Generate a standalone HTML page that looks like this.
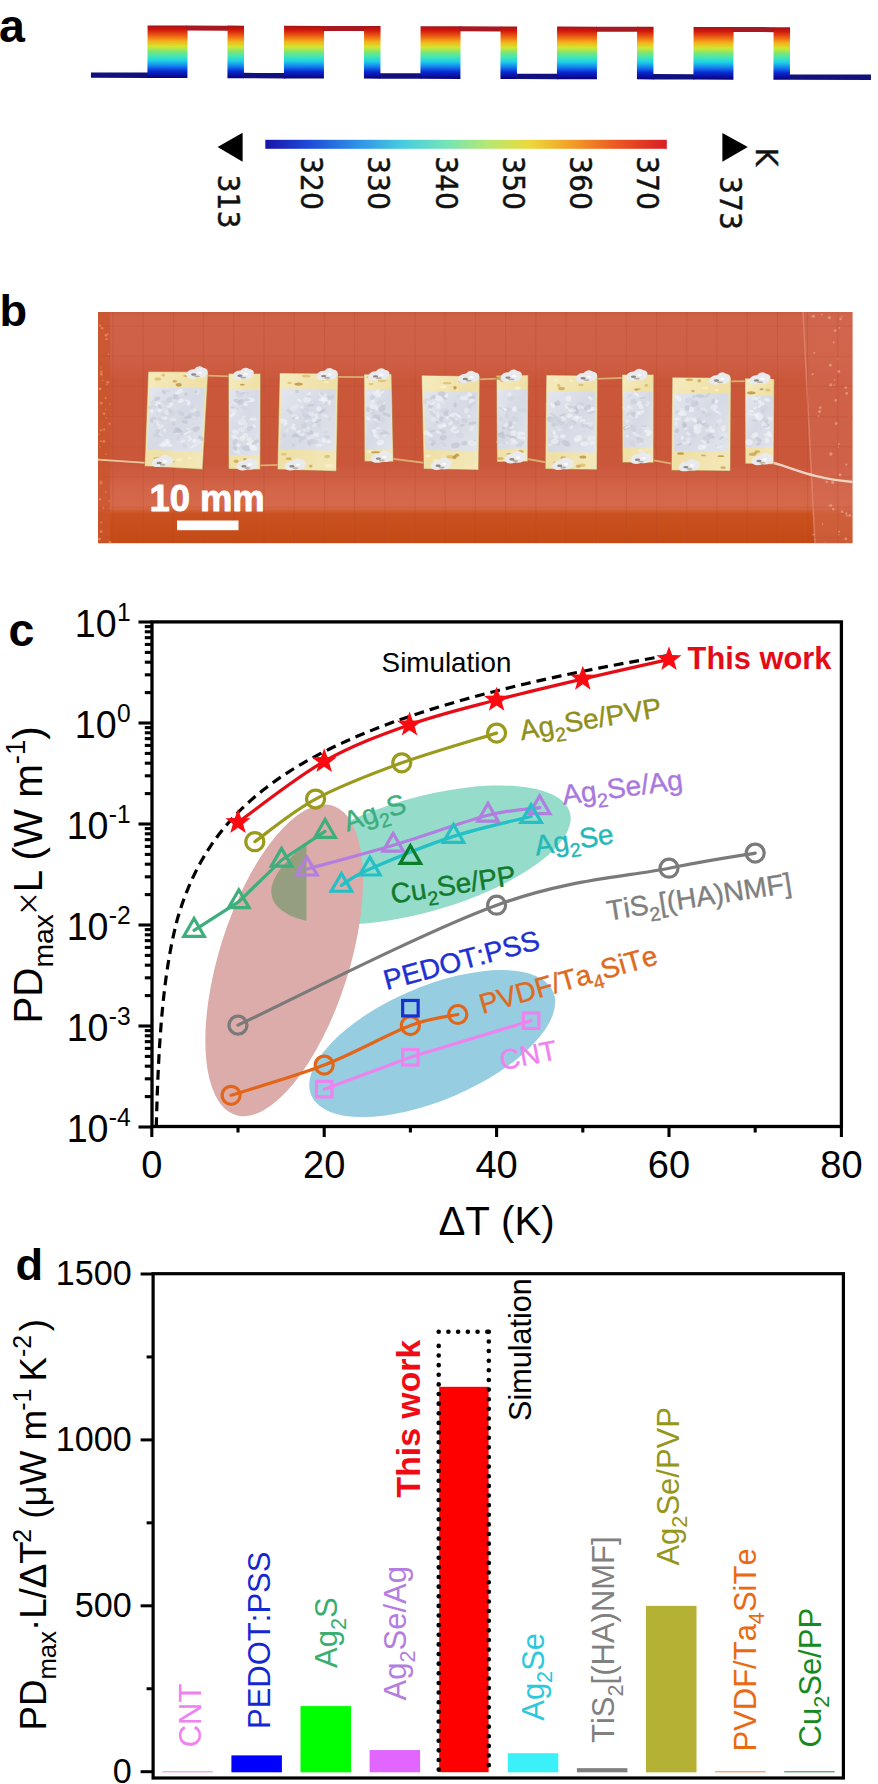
<!DOCTYPE html>
<html lang="en">
<head>
<meta charset="utf-8">
<title>Thermoelectric generator figure</title>
<style>
html,body{margin:0;padding:0;background:#fff;}
body{width:878px;height:1784px;overflow:hidden;font-family:"Liberation Sans", Arial, Helvetica, sans-serif;}
svg{display:block;}
text{white-space:pre;font-kerning:none;font-variant-ligatures:none;}
</style>
</head>
<body>
<svg width="878" height="1784" viewBox="0 0 878 1784">
<rect x="0" y="0" width="878" height="1784" fill="#fff"/>
<g id="panelA">
<defs>
<linearGradient id="jetv" x1="0" y1="0" x2="0" y2="1">
<stop offset="0" stop-color="#a01418"/><stop offset="0.08" stop-color="#d2160c"/>
<stop offset="0.20" stop-color="#ec6414"/><stop offset="0.30" stop-color="#f5b01a"/>
<stop offset="0.40" stop-color="#d2e632"/><stop offset="0.50" stop-color="#78e678"/>
<stop offset="0.58" stop-color="#46e6b4"/><stop offset="0.67" stop-color="#1ed2e6"/>
<stop offset="0.77" stop-color="#1482f0"/><stop offset="0.87" stop-color="#0a28d2"/>
<stop offset="1" stop-color="#0a0078"/></linearGradient>
<linearGradient id="jeth" x1="0" y1="0" x2="1" y2="0">
<stop offset="0" stop-color="#1a14a8"/><stop offset="0.10" stop-color="#1c46d6"/>
<stop offset="0.22" stop-color="#2c8ce6"/><stop offset="0.34" stop-color="#46cce0"/>
<stop offset="0.45" stop-color="#74e4b8"/><stop offset="0.56" stop-color="#b8e870"/>
<stop offset="0.66" stop-color="#ecd83a"/><stop offset="0.76" stop-color="#f2a028"/>
<stop offset="0.87" stop-color="#ec5a24"/><stop offset="1" stop-color="#d81e24"/></linearGradient>
</defs>
<g transform="rotate(0.16 147 52)">
<rect x="91" y="72.6" width="57.5" height="5.4" fill="#10107e"/>
<rect x="147.5" y="25.4" width="40" height="52.6" fill="url(#jetv)"/>
<rect x="186.5" y="25.4" width="42" height="5.0" fill="#a81820"/>
<rect x="227.5" y="25.4" width="16.5" height="52.6" fill="url(#jetv)"/>
<rect x="243.5" y="72.6" width="41.5" height="5.4" fill="#10107e"/>
<rect x="284" y="25.4" width="40" height="52.6" fill="url(#jetv)"/>
<rect x="323" y="25.4" width="42" height="5.0" fill="#a81820"/>
<rect x="364" y="25.4" width="16.5" height="52.6" fill="url(#jetv)"/>
<rect x="380" y="72.6" width="41.5" height="5.4" fill="#10107e"/>
<rect x="420.5" y="25.4" width="40" height="52.6" fill="url(#jetv)"/>
<rect x="459.5" y="25.4" width="42" height="5.0" fill="#a81820"/>
<rect x="500.5" y="25.4" width="16.5" height="52.6" fill="url(#jetv)"/>
<rect x="516.5" y="72.6" width="41.5" height="5.4" fill="#10107e"/>
<rect x="557" y="25.4" width="40" height="52.6" fill="url(#jetv)"/>
<rect x="596" y="25.4" width="42" height="5.0" fill="#a81820"/>
<rect x="637" y="25.4" width="16.5" height="52.6" fill="url(#jetv)"/>
<rect x="653" y="72.6" width="41.5" height="5.4" fill="#10107e"/>
<rect x="693.5" y="25.4" width="40" height="52.6" fill="url(#jetv)"/>
<rect x="732.5" y="25.4" width="42" height="5.0" fill="#a81820"/>
<rect x="773.5" y="25.4" width="16.5" height="52.6" fill="url(#jetv)"/>
<rect x="789.5" y="72.6" width="81.5" height="5.4" fill="#10107e"/>
</g>
<rect x="265.3" y="139.8" width="401.5" height="9" fill="url(#jeth)"/>
<polygon points="217.6,147 242.6,132.8 242.6,161.8" fill="#000"/>
<polygon points="747.8,147 722.4,133 722.4,161.8" fill="#000"/>
<text transform="translate(301.13,156) rotate(90) scale(0.91,1)" x="0" y="0" font-family='"DejaVu Sans", "Liberation Sans", sans-serif' font-size="31" fill="#111" stroke="#111" stroke-width="0.45">320</text>
<text transform="translate(368.33,156) rotate(90) scale(0.91,1)" x="0" y="0" font-family='"DejaVu Sans", "Liberation Sans", sans-serif' font-size="31" fill="#111" stroke="#111" stroke-width="0.45">330</text>
<text transform="translate(435.53,156) rotate(90) scale(0.91,1)" x="0" y="0" font-family='"DejaVu Sans", "Liberation Sans", sans-serif' font-size="31" fill="#111" stroke="#111" stroke-width="0.45">340</text>
<text transform="translate(502.73,156) rotate(90) scale(0.91,1)" x="0" y="0" font-family='"DejaVu Sans", "Liberation Sans", sans-serif' font-size="31" fill="#111" stroke="#111" stroke-width="0.45">350</text>
<text transform="translate(569.93,156) rotate(90) scale(0.91,1)" x="0" y="0" font-family='"DejaVu Sans", "Liberation Sans", sans-serif' font-size="31" fill="#111" stroke="#111" stroke-width="0.45">360</text>
<text transform="translate(637.13,156) rotate(90) scale(0.91,1)" x="0" y="0" font-family='"DejaVu Sans", "Liberation Sans", sans-serif' font-size="31" fill="#111" stroke="#111" stroke-width="0.45">370</text>
<text transform="translate(217.9,174.5) rotate(90) scale(0.91,1)" x="0" y="0" font-family='"DejaVu Sans", "Liberation Sans", sans-serif' font-size="31" fill="#111" stroke="#111" stroke-width="0.45">313</text>
<text transform="translate(720,176) rotate(90) scale(0.91,1)" x="0" y="0" font-family='"DejaVu Sans", "Liberation Sans", sans-serif' font-size="31" fill="#111" stroke="#111" stroke-width="0.45">373</text>
<text transform="translate(755.8,147.8) rotate(90) scale(0.91,1)" x="0" y="0" font-family='"DejaVu Sans", "Liberation Sans", sans-serif' font-size="31" fill="#111" stroke="#111" stroke-width="0.45">K</text>
</g>
<g id="panelB">
<defs>
<linearGradient id="bgb" gradientUnits="userSpaceOnUse" x1="0" y1="312.0" x2="0" y2="543.2">
<stop offset="0" stop-color="#c85a3c"/><stop offset="0.02" stop-color="#cf6248"/><stop offset="0.20" stop-color="#ce6046"/><stop offset="0.29" stop-color="#cb573b"/>
<stop offset="0.66" stop-color="#cb573b"/><stop offset="0.76" stop-color="#d26448"/><stop offset="0.845" stop-color="#d66a4a"/><stop offset="0.872" stop-color="#ca5220"/><stop offset="1" stop-color="#c44a16"/></linearGradient>
<linearGradient id="gold" x1="0" y1="0" x2="1" y2="1"><stop offset="0" stop-color="#f5ebbe"/><stop offset="0.5" stop-color="#efe0a6"/><stop offset="1" stop-color="#f4e9bc"/></linearGradient>
<linearGradient id="silv" x1="0" y1="0" x2="1" y2="1"><stop offset="0" stop-color="#e3e6ee"/><stop offset="0.5" stop-color="#d6dae4"/><stop offset="1" stop-color="#e1e4ec"/></linearGradient>
<clipPath id="clipb"><rect x="98" y="312" width="754.5" height="231.2"/></clipPath>
</defs>
<rect x="98" y="312" width="754.5" height="231.2" fill="url(#bgb)"/>
<g clip-path="url(#clipb)">
<rect x="98" y="312" width="12" height="231.2" fill="#c9562c" opacity="0.75"/>
<circle cx="103.98" cy="441.42" r="1.43" fill="#e58a62" opacity="0.8"/>
<circle cx="104.12" cy="429.41" r="1.13" fill="#e58a62" opacity="0.8"/>
<circle cx="101.03" cy="430.35" r="1.17" fill="#e58a62" opacity="0.8"/>
<circle cx="107.72" cy="333.76" r="0.87" fill="#e58a62" opacity="0.8"/>
<circle cx="100" cy="499.19" r="1.22" fill="#e58a62" opacity="0.8"/>
<circle cx="99.46" cy="539.08" r="1.47" fill="#e58a62" opacity="0.8"/>
<circle cx="106.19" cy="454.32" r="0.74" fill="#e58a62" opacity="0.8"/>
<circle cx="99.17" cy="434.16" r="0.65" fill="#e58a62" opacity="0.8"/>
<circle cx="101.09" cy="367.94" r="0.63" fill="#e58a62" opacity="0.8"/>
<circle cx="104.1" cy="413.85" r="1.36" fill="#e58a62" opacity="0.8"/>
<circle cx="104.71" cy="460.04" r="1.05" fill="#e58a62" opacity="0.8"/>
<circle cx="106.29" cy="417.73" r="0.85" fill="#e58a62" opacity="0.8"/>
<circle cx="109.97" cy="542.2" r="1.36" fill="#e58a62" opacity="0.8"/>
<circle cx="106.79" cy="384.89" r="0.81" fill="#e58a62" opacity="0.8"/>
<circle cx="102.18" cy="328.24" r="1.29" fill="#e58a62" opacity="0.8"/>
<circle cx="103.4" cy="507.73" r="0.95" fill="#e58a62" opacity="0.8"/>
<circle cx="109.54" cy="507.9" r="0.6" fill="#e58a62" opacity="0.8"/>
<circle cx="101.31" cy="522.45" r="1.02" fill="#e58a62" opacity="0.8"/>
<circle cx="109.78" cy="403.88" r="0.67" fill="#e58a62" opacity="0.8"/>
<circle cx="105.92" cy="491.99" r="0.84" fill="#e58a62" opacity="0.8"/>
<circle cx="99.96" cy="388.89" r="1.47" fill="#e58a62" opacity="0.8"/>
<circle cx="107.34" cy="339.28" r="0.82" fill="#e58a62" opacity="0.8"/>
<circle cx="100.11" cy="325.85" r="1.32" fill="#e58a62" opacity="0.8"/>
<circle cx="100.95" cy="441.31" r="1" fill="#e58a62" opacity="0.8"/>
<circle cx="101.1" cy="481.21" r="0.72" fill="#e58a62" opacity="0.8"/>
<circle cx="106.08" cy="338.94" r="0.98" fill="#e58a62" opacity="0.8"/>
<circle cx="101.34" cy="374.38" r="1.47" fill="#e58a62" opacity="0.8"/>
<circle cx="107.84" cy="382.32" r="1.4" fill="#e58a62" opacity="0.8"/>
<circle cx="101.32" cy="403.16" r="1.37" fill="#e58a62" opacity="0.8"/>
<circle cx="106.06" cy="335.2" r="1.49" fill="#e58a62" opacity="0.8"/>
<circle cx="101.35" cy="371.71" r="1.3" fill="#e58a62" opacity="0.8"/>
<circle cx="102.62" cy="380.51" r="0.67" fill="#e58a62" opacity="0.8"/>
<circle cx="99.99" cy="446.73" r="0.82" fill="#e58a62" opacity="0.8"/>
<circle cx="105.61" cy="397.94" r="1.01" fill="#e58a62" opacity="0.8"/>
<circle cx="109.55" cy="423.84" r="1.12" fill="#e58a62" opacity="0.8"/>
<circle cx="108.53" cy="354.27" r="0.74" fill="#e58a62" opacity="0.8"/>
<circle cx="108.99" cy="501.08" r="0.82" fill="#e58a62" opacity="0.8"/>
<circle cx="101.09" cy="482.95" r="1.45" fill="#e58a62" opacity="0.8"/>
<circle cx="101.16" cy="531.67" r="1.39" fill="#e58a62" opacity="0.8"/>
<circle cx="105.64" cy="409.44" r="0.69" fill="#e58a62" opacity="0.8"/>
<polygon points="803,312 852.5,312 852.5,543.2 815,543.2" fill="#d46a52" opacity="0.55"/>
<line x1="803" y1="312" x2="815" y2="543.2" stroke="#e08a72" stroke-width="1.6" opacity="0.7"/>
<circle cx="813.47" cy="534.57" r="0.89" fill="#e9a48c" opacity="0.7"/>
<circle cx="838.77" cy="371.41" r="1.59" fill="#e9a48c" opacity="0.7"/>
<circle cx="834.67" cy="379.84" r="0.81" fill="#e9a48c" opacity="0.7"/>
<circle cx="839.37" cy="327.9" r="0.87" fill="#e9a48c" opacity="0.7"/>
<circle cx="833.26" cy="509.07" r="1.34" fill="#e9a48c" opacity="0.7"/>
<circle cx="822.65" cy="524.09" r="0.84" fill="#e9a48c" opacity="0.7"/>
<circle cx="812.63" cy="374.24" r="1.13" fill="#e9a48c" opacity="0.7"/>
<circle cx="814.3" cy="352.75" r="1.04" fill="#e9a48c" opacity="0.7"/>
<circle cx="833.74" cy="342.42" r="1.03" fill="#e9a48c" opacity="0.7"/>
<circle cx="845.86" cy="538.69" r="1.39" fill="#e9a48c" opacity="0.7"/>
<circle cx="838.27" cy="447.12" r="0.77" fill="#e9a48c" opacity="0.7"/>
<circle cx="813.33" cy="316.14" r="1.69" fill="#e9a48c" opacity="0.7"/>
<circle cx="838.64" cy="534.59" r="0.63" fill="#e9a48c" opacity="0.7"/>
<circle cx="836.18" cy="423.49" r="1.48" fill="#e9a48c" opacity="0.7"/>
<circle cx="824.12" cy="543.05" r="0.69" fill="#e9a48c" opacity="0.7"/>
<circle cx="832.75" cy="482.4" r="1.68" fill="#e9a48c" opacity="0.7"/>
<circle cx="840.01" cy="474.69" r="1.55" fill="#e9a48c" opacity="0.7"/>
<circle cx="846.77" cy="393.34" r="1.42" fill="#e9a48c" opacity="0.7"/>
<circle cx="846.23" cy="513.4" r="1.1" fill="#e9a48c" opacity="0.7"/>
<circle cx="842.04" cy="511.63" r="1.29" fill="#e9a48c" opacity="0.7"/>
<circle cx="835.75" cy="400.4" r="1.3" fill="#e9a48c" opacity="0.7"/>
<circle cx="835.14" cy="330.54" r="1.37" fill="#e9a48c" opacity="0.7"/>
<circle cx="849.75" cy="515.41" r="1.47" fill="#e9a48c" opacity="0.7"/>
<circle cx="826.76" cy="481.94" r="1.3" fill="#e9a48c" opacity="0.7"/>
<circle cx="828.74" cy="505.83" r="0.7" fill="#e9a48c" opacity="0.7"/>
<circle cx="840.51" cy="318.89" r="1.32" fill="#e9a48c" opacity="0.7"/>
<circle cx="830.28" cy="365.23" r="1.44" fill="#e9a48c" opacity="0.7"/>
<circle cx="830.9" cy="454.07" r="1.7" fill="#e9a48c" opacity="0.7"/>
<circle cx="821.72" cy="314.61" r="0.96" fill="#e9a48c" opacity="0.7"/>
<circle cx="837.77" cy="358.84" r="0.8" fill="#e9a48c" opacity="0.7"/>
<circle cx="846.42" cy="464.59" r="1.13" fill="#e9a48c" opacity="0.7"/>
<circle cx="845.89" cy="387.59" r="1.4" fill="#e9a48c" opacity="0.7"/>
<circle cx="819.54" cy="411.62" r="1.57" fill="#e9a48c" opacity="0.7"/>
<circle cx="846.74" cy="515.52" r="1.06" fill="#e9a48c" opacity="0.7"/>
<circle cx="834.16" cy="385.17" r="0.76" fill="#e9a48c" opacity="0.7"/>
<circle cx="830.87" cy="505.54" r="1.62" fill="#e9a48c" opacity="0.7"/>
<circle cx="839.03" cy="531.64" r="0.93" fill="#e9a48c" opacity="0.7"/>
<circle cx="818.43" cy="416.19" r="0.93" fill="#e9a48c" opacity="0.7"/>
<circle cx="820.14" cy="407.71" r="1.35" fill="#e9a48c" opacity="0.7"/>
<circle cx="830.77" cy="384.91" r="1.61" fill="#e9a48c" opacity="0.7"/>
<circle cx="849.32" cy="416.61" r="0.69" fill="#e9a48c" opacity="0.7"/>
<circle cx="813.2" cy="513.8" r="0.65" fill="#e9a48c" opacity="0.7"/>
<circle cx="838.93" cy="443.92" r="0.97" fill="#e9a48c" opacity="0.7"/>
<circle cx="842.08" cy="316.42" r="0.76" fill="#e9a48c" opacity="0.7"/>
<circle cx="829.28" cy="317.72" r="1.6" fill="#e9a48c" opacity="0.7"/>
<line x1="113" y1="312" x2="113" y2="543.2" stroke="#b4492c" stroke-width="0.9" opacity="0.35"/>
<line x1="143.2" y1="312" x2="143.2" y2="543.2" stroke="#b4492c" stroke-width="0.9" opacity="0.35"/>
<line x1="173.4" y1="312" x2="173.4" y2="543.2" stroke="#b4492c" stroke-width="0.9" opacity="0.35"/>
<line x1="203.6" y1="312" x2="203.6" y2="543.2" stroke="#b4492c" stroke-width="0.9" opacity="0.35"/>
<line x1="233.8" y1="312" x2="233.8" y2="543.2" stroke="#b4492c" stroke-width="0.9" opacity="0.35"/>
<line x1="264" y1="312" x2="264" y2="543.2" stroke="#b4492c" stroke-width="0.9" opacity="0.35"/>
<line x1="294.2" y1="312" x2="294.2" y2="543.2" stroke="#b4492c" stroke-width="0.9" opacity="0.35"/>
<line x1="324.4" y1="312" x2="324.4" y2="543.2" stroke="#b4492c" stroke-width="0.9" opacity="0.35"/>
<line x1="354.6" y1="312" x2="354.6" y2="543.2" stroke="#b4492c" stroke-width="0.9" opacity="0.35"/>
<line x1="384.8" y1="312" x2="384.8" y2="543.2" stroke="#b4492c" stroke-width="0.9" opacity="0.35"/>
<line x1="415" y1="312" x2="415" y2="543.2" stroke="#b4492c" stroke-width="0.9" opacity="0.35"/>
<line x1="445.2" y1="312" x2="445.2" y2="543.2" stroke="#b4492c" stroke-width="0.9" opacity="0.35"/>
<line x1="475.4" y1="312" x2="475.4" y2="543.2" stroke="#b4492c" stroke-width="0.9" opacity="0.35"/>
<line x1="505.6" y1="312" x2="505.6" y2="543.2" stroke="#b4492c" stroke-width="0.9" opacity="0.35"/>
<line x1="535.8" y1="312" x2="535.8" y2="543.2" stroke="#b4492c" stroke-width="0.9" opacity="0.35"/>
<line x1="566" y1="312" x2="566" y2="543.2" stroke="#b4492c" stroke-width="0.9" opacity="0.35"/>
<line x1="596.2" y1="312" x2="596.2" y2="543.2" stroke="#b4492c" stroke-width="0.9" opacity="0.35"/>
<line x1="626.4" y1="312" x2="626.4" y2="543.2" stroke="#b4492c" stroke-width="0.9" opacity="0.35"/>
<line x1="656.6" y1="312" x2="656.6" y2="543.2" stroke="#b4492c" stroke-width="0.9" opacity="0.35"/>
<line x1="686.8" y1="312" x2="686.8" y2="543.2" stroke="#b4492c" stroke-width="0.9" opacity="0.35"/>
<line x1="717" y1="312" x2="717" y2="543.2" stroke="#b4492c" stroke-width="0.9" opacity="0.35"/>
<line x1="747.2" y1="312" x2="747.2" y2="543.2" stroke="#b4492c" stroke-width="0.9" opacity="0.35"/>
<line x1="777.4" y1="312" x2="777.4" y2="543.2" stroke="#b4492c" stroke-width="0.9" opacity="0.35"/>
<line x1="807.6" y1="312" x2="807.6" y2="543.2" stroke="#b4492c" stroke-width="0.9" opacity="0.35"/>
<line x1="837.8" y1="312" x2="837.8" y2="543.2" stroke="#b4492c" stroke-width="0.9" opacity="0.35"/>
<line x1="868" y1="312" x2="868" y2="543.2" stroke="#b4492c" stroke-width="0.9" opacity="0.35"/>
<line x1="98" y1="326" x2="852.5" y2="326" stroke="#b4492c" stroke-width="0.9" opacity="0.3"/>
<line x1="98" y1="356.2" x2="852.5" y2="356.2" stroke="#b4492c" stroke-width="0.9" opacity="0.3"/>
<line x1="98" y1="386.4" x2="852.5" y2="386.4" stroke="#b4492c" stroke-width="0.9" opacity="0.3"/>
<line x1="98" y1="416.6" x2="852.5" y2="416.6" stroke="#b4492c" stroke-width="0.9" opacity="0.3"/>
<line x1="98" y1="446.8" x2="852.5" y2="446.8" stroke="#b4492c" stroke-width="0.9" opacity="0.3"/>
<line x1="98" y1="477" x2="852.5" y2="477" stroke="#b4492c" stroke-width="0.9" opacity="0.3"/>
<line x1="98" y1="507.2" x2="852.5" y2="507.2" stroke="#b4492c" stroke-width="0.9" opacity="0.3"/>
<line x1="98" y1="537.4" x2="852.5" y2="537.4" stroke="#b4492c" stroke-width="0.9" opacity="0.3"/>
<path d="M98,459.6 L150,463.2" stroke="#e8c9a0" stroke-width="1.7" fill="none"/>
<line x1="200.2" y1="375.3" x2="236.4" y2="376.6" stroke="#dcae74" stroke-width="1.8"/>
<line x1="330.2" y1="376.9" x2="372" y2="377.2" stroke="#dcae74" stroke-width="1.8"/>
<line x1="471.8" y1="379.7" x2="504.4" y2="378.4" stroke="#dcae74" stroke-width="1.8"/>
<line x1="589.6" y1="379.1" x2="630" y2="377.6" stroke="#dcae74" stroke-width="1.8"/>
<line x1="723" y1="381.3" x2="753" y2="381.2" stroke="#dcae74" stroke-width="1.8"/>
<line x1="252.2" y1="465.6" x2="287.4" y2="464.6" stroke="#dcae74" stroke-width="1.8"/>
<line x1="385.4" y1="457.8" x2="433.6" y2="464" stroke="#dcae74" stroke-width="1.8"/>
<line x1="519.8" y1="457.6" x2="555.2" y2="464" stroke="#dcae74" stroke-width="1.8"/>
<line x1="645.6" y1="458.8" x2="681.4" y2="465.4" stroke="#dcae74" stroke-width="1.8"/>
<path d="M766,461 C788,465 806,478 853,482" stroke="#ecd5c2" stroke-width="2.4" fill="none"/>
<polygon points="148.2,371.6 208.2,371.8 202.6,469.4 144.6,466.2" fill="url(#gold)" stroke="#a8662e" stroke-width="0.9" stroke-opacity="0.55"/>
<polygon points="149.79,387.5 205.06,388.2 201.39,452.17 147.44,449.5" fill="url(#silv)"/>
<ellipse cx="163.31" cy="375.28" rx="1.64" ry="1.43" fill="#d9bb63" opacity="0.75"/>
<ellipse cx="156.76" cy="458.3" rx="3.42" ry="1.17" fill="#c9a24a" opacity="0.75"/>
<ellipse cx="186.11" cy="375.97" rx="2.93" ry="0.98" fill="#c9a24a" opacity="0.75"/>
<ellipse cx="189.71" cy="458.29" rx="1.61" ry="1.03" fill="#fbf3cf" opacity="0.75"/>
<ellipse cx="178.72" cy="384.87" rx="3" ry="1.8" fill="#b88a36" opacity="0.75"/>
<ellipse cx="171.27" cy="461.56" rx="4.22" ry="0.89" fill="#d9bb63" opacity="0.75"/>
<ellipse cx="157.83" cy="379" rx="3.38" ry="1.71" fill="#d9bb63" opacity="0.75"/>
<ellipse cx="179.25" cy="459.79" rx="3.01" ry="1.62" fill="#fbf3cf" opacity="0.75"/>
<ellipse cx="174.85" cy="381.35" rx="2.11" ry="1.52" fill="#c9a24a" opacity="0.75"/>
<ellipse cx="162.08" cy="462.93" rx="4.44" ry="1.78" fill="#fbf3cf" opacity="0.75"/>
<ellipse cx="164.86" cy="430.44" rx="1.55" ry="2.01" fill="#f1f3f7" opacity="0.6" transform="rotate(-4.73 164.86 430.44)"/>
<ellipse cx="179.48" cy="433.29" rx="2.96" ry="1.06" fill="#f1f3f7" opacity="0.6" transform="rotate(-5.69 179.48 433.29)"/>
<ellipse cx="153.37" cy="419.89" rx="3.56" ry="2.83" fill="#bcc2cf" opacity="0.6" transform="rotate(-28.11 153.37 419.89)"/>
<ellipse cx="177.76" cy="430.74" rx="4.02" ry="2.38" fill="#bcc2cf" opacity="0.6" transform="rotate(6.32 177.76 430.74)"/>
<ellipse cx="186.51" cy="432.7" rx="2.82" ry="2.12" fill="#cfd4de" opacity="0.6" transform="rotate(4.92 186.51 432.7)"/>
<ellipse cx="159.92" cy="418.81" rx="4.22" ry="1.51" fill="#cfd4de" opacity="0.6" transform="rotate(-9.5 159.92 418.81)"/>
<ellipse cx="194.42" cy="440.83" rx="2.12" ry="2.7" fill="#f6f7fa" opacity="0.6" transform="rotate(1.94 194.42 440.83)"/>
<ellipse cx="180.62" cy="400.96" rx="3.11" ry="2.01" fill="#f6f7fa" opacity="0.6" transform="rotate(-9.84 180.62 400.96)"/>
<ellipse cx="178.87" cy="392.01" rx="4.25" ry="2.09" fill="#f6f7fa" opacity="0.6" transform="rotate(-30.25 178.87 392.01)"/>
<ellipse cx="156.32" cy="399.01" rx="4.29" ry="1.92" fill="#bcc2cf" opacity="0.6" transform="rotate(-18.46 156.32 399.01)"/>
<ellipse cx="175.57" cy="396.74" rx="2.8" ry="2.63" fill="#bcc2cf" opacity="0.6" transform="rotate(2 175.57 396.74)"/>
<ellipse cx="157.1" cy="413.41" rx="1.59" ry="1.52" fill="#cfd4de" opacity="0.6" transform="rotate(22.34 157.1 413.41)"/>
<ellipse cx="152.75" cy="400.56" rx="2.18" ry="2.37" fill="#e9ecf2" opacity="0.6" transform="rotate(17.89 152.75 400.56)"/>
<ellipse cx="163.98" cy="417.93" rx="3" ry="2.16" fill="#f6f7fa" opacity="0.6" transform="rotate(9.88 163.98 417.93)"/>
<ellipse cx="187.96" cy="429.48" rx="4.14" ry="1.05" fill="#cfd4de" opacity="0.6" transform="rotate(-6.93 187.96 429.48)"/>
<ellipse cx="178.41" cy="398.6" rx="2.11" ry="2.26" fill="#cfd4de" opacity="0.6" transform="rotate(-22.53 178.41 398.6)"/>
<ellipse cx="162.55" cy="420.45" rx="3.26" ry="1.27" fill="#cfd4de" opacity="0.6" transform="rotate(10.23 162.55 420.45)"/>
<ellipse cx="169.21" cy="399.82" rx="3.31" ry="2.78" fill="#c6cbd7" opacity="0.6" transform="rotate(-22.55 169.21 399.82)"/>
<ellipse cx="202.18" cy="440.09" rx="1.9" ry="1.48" fill="#cfd4de" opacity="0.6" transform="rotate(-32.95 202.18 440.09)"/>
<ellipse cx="171.25" cy="414.28" rx="4.32" ry="2.09" fill="#cfd4de" opacity="0.6" transform="rotate(-29.92 171.25 414.28)"/>
<ellipse cx="172" cy="428.56" rx="1.55" ry="1.4" fill="#cfd4de" opacity="0.6" transform="rotate(-11.39 172 428.56)"/>
<ellipse cx="193.19" cy="410.1" rx="3.61" ry="2.27" fill="#e9ecf2" opacity="0.6" transform="rotate(0.22 193.19 410.1)"/>
<ellipse cx="186.33" cy="400.27" rx="1.71" ry="1.21" fill="#f1f3f7" opacity="0.6" transform="rotate(20.96 186.33 400.27)"/>
<ellipse cx="182.67" cy="441.09" rx="2.94" ry="1.38" fill="#f1f3f7" opacity="0.6" transform="rotate(-23.69 182.67 441.09)"/>
<ellipse cx="194.16" cy="445.95" rx="4.28" ry="1.19" fill="#f1f3f7" opacity="0.6" transform="rotate(-29.24 194.16 445.95)"/>
<ellipse cx="186.1" cy="393.92" rx="1.79" ry="1.78" fill="#bcc2cf" opacity="0.6" transform="rotate(1.22 186.1 393.92)"/>
<ellipse cx="173.38" cy="423.75" rx="1.54" ry="2.4" fill="#c6cbd7" opacity="0.6" transform="rotate(-25.5 173.38 423.75)"/>
<ellipse cx="174.59" cy="431.64" rx="2.72" ry="1.39" fill="#c6cbd7" opacity="0.6" transform="rotate(-32.42 174.59 431.64)"/>
<ellipse cx="191.74" cy="407.95" rx="1.75" ry="2.68" fill="#cfd4de" opacity="0.6" transform="rotate(35.17 191.74 407.95)"/>
<ellipse cx="180.46" cy="400.38" rx="3.25" ry="1.68" fill="#e9ecf2" opacity="0.6" transform="rotate(-17.64 180.46 400.38)"/>
<ellipse cx="157.49" cy="431.85" rx="1.98" ry="2.87" fill="#c6cbd7" opacity="0.6" transform="rotate(31.72 157.49 431.85)"/>
<ellipse cx="196.17" cy="429.1" rx="3.8" ry="2.53" fill="#bcc2cf" opacity="0.6" transform="rotate(-23.45 196.17 429.1)"/>
<ellipse cx="160.96" cy="434.95" rx="2.41" ry="1.2" fill="#e9ecf2" opacity="0.6" transform="rotate(39.25 160.96 434.95)"/>
<ellipse cx="197.33" cy="392.33" rx="2.32" ry="2.92" fill="#e9ecf2" opacity="0.6" transform="rotate(-12.97 197.33 392.33)"/>
<ellipse cx="185.02" cy="421.97" rx="3.1" ry="1.78" fill="#bcc2cf" opacity="0.6" transform="rotate(11.38 185.02 421.97)"/>
<ellipse cx="187.12" cy="432.92" rx="4.44" ry="1.05" fill="#f6f7fa" opacity="0.6" transform="rotate(-31.36 187.12 432.92)"/>
<ellipse cx="163.6" cy="414.79" rx="3.01" ry="2.52" fill="#cfd4de" opacity="0.6" transform="rotate(-9.95 163.6 414.79)"/>
<ellipse cx="156.58" cy="403.8" rx="4.22" ry="2.1" fill="#f6f7fa" opacity="0.6" transform="rotate(-6.75 156.58 403.8)"/>
<ellipse cx="177.97" cy="437.74" rx="1.8" ry="1.89" fill="#cfd4de" opacity="0.6" transform="rotate(-33.9 177.97 437.74)"/>
<ellipse cx="181.87" cy="432.78" rx="1.64" ry="2.86" fill="#c6cbd7" opacity="0.6" transform="rotate(-9.13 181.87 432.78)"/>
<ellipse cx="200.74" cy="438.27" rx="3.13" ry="2.19" fill="#bcc2cf" opacity="0.6" transform="rotate(35.62 200.74 438.27)"/>
<ellipse cx="172.91" cy="419.53" rx="3.29" ry="1.73" fill="#e9ecf2" opacity="0.6" transform="rotate(-1.34 172.91 419.53)"/>
<ellipse cx="165.26" cy="442.48" rx="3.49" ry="2.5" fill="#f1f3f7" opacity="0.6" transform="rotate(-38.88 165.26 442.48)"/>
<ellipse cx="164.01" cy="391.94" rx="1.97" ry="2.51" fill="#bcc2cf" opacity="0.6" transform="rotate(-35.78 164.01 391.94)"/>
<ellipse cx="167.56" cy="412.17" rx="3.25" ry="2.45" fill="#e9ecf2" opacity="0.6" transform="rotate(-34.12 167.56 412.17)"/>
<ellipse cx="197.47" cy="413.98" rx="2.93" ry="2.95" fill="#c6cbd7" opacity="0.6" transform="rotate(-36.37 197.47 413.98)"/>
<ellipse cx="156.58" cy="435.68" rx="4.23" ry="1.29" fill="#c6cbd7" opacity="0.6" transform="rotate(8.29 156.58 435.68)"/>
<ellipse cx="157.43" cy="425.08" rx="2.87" ry="1.41" fill="#f1f3f7" opacity="0.6" transform="rotate(-11.46 157.43 425.08)"/>
<ellipse cx="159.43" cy="410.21" rx="1.92" ry="1.83" fill="#f6f7fa" opacity="0.6" transform="rotate(-19.03 159.43 410.21)"/>
<ellipse cx="181.09" cy="413.41" rx="3.83" ry="2.06" fill="#c6cbd7" opacity="0.6" transform="rotate(36.21 181.09 413.41)"/>
<ellipse cx="188.8" cy="403.09" rx="1.84" ry="2.79" fill="#f6f7fa" opacity="0.6" transform="rotate(10 188.8 403.09)"/>
<ellipse cx="169.79" cy="404.98" rx="3.56" ry="2.13" fill="#f6f7fa" opacity="0.6" transform="rotate(-24.8 169.79 404.98)"/>
<ellipse cx="165.71" cy="403.15" rx="4.36" ry="2" fill="#cfd4de" opacity="0.6" transform="rotate(33.26 165.71 403.15)"/>
<ellipse cx="196.12" cy="391.75" rx="1.68" ry="1.54" fill="#bcc2cf" opacity="0.6" transform="rotate(-37.85 196.12 391.75)"/>
<ellipse cx="153.52" cy="402.19" rx="2.33" ry="2.51" fill="#cfd4de" opacity="0.6" transform="rotate(-27.13 153.52 402.19)"/>
<ellipse cx="163.49" cy="445.44" rx="2.95" ry="1.71" fill="#e9ecf2" opacity="0.6" transform="rotate(-12.5 163.49 445.44)"/>
<ellipse cx="189.33" cy="437.3" rx="1.72" ry="1.24" fill="#f6f7fa" opacity="0.6" transform="rotate(27.04 189.33 437.3)"/>
<ellipse cx="190.55" cy="414.83" rx="3.74" ry="1.78" fill="#c6cbd7" opacity="0.6" transform="rotate(-10.48 190.55 414.83)"/>
<ellipse cx="184.71" cy="445.88" rx="2.48" ry="2.1" fill="#cfd4de" opacity="0.6" transform="rotate(26.09 184.71 445.88)"/>
<ellipse cx="160.91" cy="426.77" rx="3.24" ry="1.92" fill="#e9ecf2" opacity="0.6" transform="rotate(-33.72 160.91 426.77)"/>
<ellipse cx="155.8" cy="421.66" rx="2.95" ry="2.37" fill="#e9ecf2" opacity="0.6" transform="rotate(25.88 155.8 421.66)"/>
<ellipse cx="152.07" cy="407.18" rx="4.23" ry="2.21" fill="#cfd4de" opacity="0.6" transform="rotate(-15.7 152.07 407.18)"/>
<ellipse cx="188.33" cy="429.06" rx="2.35" ry="1.29" fill="#e9ecf2" opacity="0.6" transform="rotate(12.58 188.33 429.06)"/>
<ellipse cx="168.17" cy="441.16" rx="2.47" ry="1.88" fill="#f6f7fa" opacity="0.6" transform="rotate(33.48 168.17 441.16)"/>
<ellipse cx="199.22" cy="441.56" rx="2.81" ry="2.61" fill="#e9ecf2" opacity="0.6" transform="rotate(-3.34 199.22 441.56)"/>
<ellipse cx="162.8" cy="444.66" rx="3.69" ry="2.03" fill="#f1f3f7" opacity="0.6" transform="rotate(-11.06 162.8 444.66)"/>
<ellipse cx="170.12" cy="410.21" rx="2.69" ry="1.78" fill="#c6cbd7" opacity="0.6" transform="rotate(19.11 170.12 410.21)"/>
<ellipse cx="170.25" cy="411.74" rx="1.96" ry="2.18" fill="#c6cbd7" opacity="0.6" transform="rotate(-25.87 170.25 411.74)"/>
<ellipse cx="190.05" cy="439.71" rx="2.34" ry="1.04" fill="#f6f7fa" opacity="0.6" transform="rotate(-35.38 190.05 439.71)"/>
<ellipse cx="159.63" cy="406.37" rx="1.57" ry="2.68" fill="#bcc2cf" opacity="0.6" transform="rotate(-34.88 159.63 406.37)"/>
<ellipse cx="179.3" cy="434.42" rx="1.75" ry="1.16" fill="#cfd4de" opacity="0.6" transform="rotate(-31.57 179.3 434.42)"/>
<ellipse cx="167.49" cy="390.98" rx="3.46" ry="1.19" fill="#cfd4de" opacity="0.6" transform="rotate(-6.24 167.49 390.98)"/>
<ellipse cx="187.68" cy="417.37" rx="4.22" ry="1.68" fill="#bcc2cf" opacity="0.6" transform="rotate(-8.45 187.68 417.37)"/>
<ellipse cx="168.71" cy="444.69" rx="3.52" ry="1.99" fill="#f6f7fa" opacity="0.6" transform="rotate(24.38 168.71 444.69)"/>
<ellipse cx="155.27" cy="424.74" rx="1.64" ry="2.51" fill="#cfd4de" opacity="0.6" transform="rotate(-12.07 155.27 424.74)"/>
<ellipse cx="151.79" cy="411.04" rx="1.77" ry="1.93" fill="#f6f7fa" opacity="0.6" transform="rotate(11.22 151.79 411.04)"/>
<ellipse cx="178.14" cy="429.97" rx="3.91" ry="1.84" fill="#bcc2cf" opacity="0.6" transform="rotate(33.24 178.14 429.97)"/>
<path d="M186.2,375.8 q1,-7 8,-6.5 q4,-5 9,-1.5 q6,1 4,6 q-2,5 -10,4 q-8,2.5 -11,-2z" fill="#e9eaee"/>
<ellipse cx="193.7" cy="374.5" rx="2.6" ry="1.2" fill="#6f6a5c" opacity="0.75"/>
<ellipse cx="199.7" cy="372.8" rx="2.2" ry="1.2" fill="#fbfbfb"/>
<ellipse cx="197.2" cy="376.3" rx="3" ry="0.9" fill="#8d8776" opacity="0.6"/>
<path d="M151.6,464.2 q1,-7 8,-6.5 q4,-5 9,-1.5 q6,1 4,6 q-2,5 -10,4 q-8,2.5 -11,-2z" fill="#e9eaee"/>
<ellipse cx="159.1" cy="462.9" rx="2.6" ry="1.2" fill="#6f6a5c" opacity="0.75"/>
<ellipse cx="165.1" cy="461.2" rx="2.2" ry="1.2" fill="#fbfbfb"/>
<ellipse cx="162.6" cy="464.7" rx="3" ry="0.9" fill="#8d8776" opacity="0.6"/>
<polygon points="228.4,373.6 260.6,373.4 260.2,469.6 228.6,469" fill="url(#gold)" stroke="#a8662e" stroke-width="0.9" stroke-opacity="0.55"/>
<polygon points="229.63,390 259.33,389.94 259.06,455.48 229.77,455" fill="url(#silv)"/>
<ellipse cx="237.1" cy="377.61" rx="3.41" ry="1.48" fill="#fbf3cf" opacity="0.75"/>
<ellipse cx="236.14" cy="461.25" rx="2.38" ry="1.77" fill="#c9a24a" opacity="0.75"/>
<ellipse cx="242.34" cy="384.66" rx="2.41" ry="0.96" fill="#b88a36" opacity="0.75"/>
<ellipse cx="252.56" cy="464.53" rx="1.55" ry="1.28" fill="#c9a24a" opacity="0.75"/>
<ellipse cx="238.65" cy="378.05" rx="2.58" ry="1.39" fill="#d9bb63" opacity="0.75"/>
<ellipse cx="245.2" cy="459.24" rx="2.05" ry="1.08" fill="#b88a36" opacity="0.75"/>
<ellipse cx="253.47" cy="448.24" rx="3.38" ry="2.88" fill="#f6f7fa" opacity="0.6" transform="rotate(-1.64 253.47 448.24)"/>
<ellipse cx="238.45" cy="445.25" rx="4.24" ry="1.68" fill="#f6f7fa" opacity="0.6" transform="rotate(21.73 238.45 445.25)"/>
<ellipse cx="234.57" cy="443.75" rx="2.7" ry="1.43" fill="#c6cbd7" opacity="0.6" transform="rotate(24.11 234.57 443.75)"/>
<ellipse cx="241.33" cy="423.66" rx="3.05" ry="1.55" fill="#f1f3f7" opacity="0.6" transform="rotate(12.6 241.33 423.66)"/>
<ellipse cx="237.92" cy="392.65" rx="2.92" ry="1.74" fill="#c6cbd7" opacity="0.6" transform="rotate(17.06 237.92 392.65)"/>
<ellipse cx="246.43" cy="401.44" rx="1.97" ry="1.64" fill="#e9ecf2" opacity="0.6" transform="rotate(32.65 246.43 401.44)"/>
<ellipse cx="251.14" cy="399.87" rx="3.73" ry="2.24" fill="#f6f7fa" opacity="0.6" transform="rotate(2.77 251.14 399.87)"/>
<ellipse cx="235.91" cy="438.22" rx="1.5" ry="2.64" fill="#c6cbd7" opacity="0.6" transform="rotate(25.77 235.91 438.22)"/>
<ellipse cx="234.34" cy="408.2" rx="3.65" ry="1.19" fill="#bcc2cf" opacity="0.6" transform="rotate(15.5 234.34 408.2)"/>
<ellipse cx="234.35" cy="436.92" rx="3.13" ry="2.01" fill="#f1f3f7" opacity="0.6" transform="rotate(23.15 234.35 436.92)"/>
<ellipse cx="242.07" cy="447.01" rx="1.77" ry="2.65" fill="#c6cbd7" opacity="0.6" transform="rotate(-37.02 242.07 447.01)"/>
<ellipse cx="241.98" cy="421.65" rx="4.34" ry="2.93" fill="#e9ecf2" opacity="0.6" transform="rotate(-15.14 241.98 421.65)"/>
<ellipse cx="234.19" cy="410.34" rx="2.9" ry="2.43" fill="#e9ecf2" opacity="0.6" transform="rotate(-34.05 234.19 410.34)"/>
<ellipse cx="235.68" cy="432.06" rx="3.53" ry="2.49" fill="#f1f3f7" opacity="0.6" transform="rotate(12.31 235.68 432.06)"/>
<ellipse cx="232.72" cy="414.63" rx="3.63" ry="1.47" fill="#f6f7fa" opacity="0.6" transform="rotate(-30.93 232.72 414.63)"/>
<ellipse cx="250.26" cy="443.36" rx="4.03" ry="2.44" fill="#f6f7fa" opacity="0.6" transform="rotate(-27.83 250.26 443.36)"/>
<ellipse cx="246.93" cy="448.25" rx="3.75" ry="2.91" fill="#bcc2cf" opacity="0.6" transform="rotate(4.45 246.93 448.25)"/>
<ellipse cx="234.44" cy="403.32" rx="2.63" ry="1.22" fill="#e9ecf2" opacity="0.6" transform="rotate(35.6 234.44 403.32)"/>
<ellipse cx="245.43" cy="435.43" rx="2.49" ry="2.65" fill="#f1f3f7" opacity="0.6" transform="rotate(-31.85 245.43 435.43)"/>
<ellipse cx="246.79" cy="399.89" rx="3.39" ry="1.36" fill="#c6cbd7" opacity="0.6" transform="rotate(-7.82 246.79 399.89)"/>
<ellipse cx="251.76" cy="427.56" rx="1.77" ry="1.45" fill="#c6cbd7" opacity="0.6" transform="rotate(38.99 251.76 427.56)"/>
<ellipse cx="242.45" cy="438.27" rx="2.52" ry="2.65" fill="#f6f7fa" opacity="0.6" transform="rotate(-28.88 242.45 438.27)"/>
<ellipse cx="237.18" cy="400.88" rx="3.57" ry="1.97" fill="#bcc2cf" opacity="0.6" transform="rotate(9.84 237.18 400.88)"/>
<ellipse cx="249.22" cy="428.79" rx="2.45" ry="2.58" fill="#c6cbd7" opacity="0.6" transform="rotate(12.82 249.22 428.79)"/>
<ellipse cx="246.49" cy="393.11" rx="2.49" ry="1.68" fill="#cfd4de" opacity="0.6" transform="rotate(-4.7 246.49 393.11)"/>
<ellipse cx="245.3" cy="404.29" rx="2.5" ry="1.59" fill="#f1f3f7" opacity="0.6" transform="rotate(8.91 245.3 404.29)"/>
<ellipse cx="236.09" cy="437.99" rx="4.21" ry="2.1" fill="#e9ecf2" opacity="0.6" transform="rotate(8.96 236.09 437.99)"/>
<ellipse cx="244.29" cy="426.45" rx="2.09" ry="2.87" fill="#cfd4de" opacity="0.6" transform="rotate(16.55 244.29 426.45)"/>
<ellipse cx="254.05" cy="426.04" rx="1.58" ry="2.32" fill="#f1f3f7" opacity="0.6" transform="rotate(-29.1 254.05 426.04)"/>
<ellipse cx="243.47" cy="417.05" rx="2.5" ry="1.18" fill="#e9ecf2" opacity="0.6" transform="rotate(-18.71 243.47 417.05)"/>
<ellipse cx="252.83" cy="419.14" rx="3.69" ry="1.48" fill="#f6f7fa" opacity="0.6" transform="rotate(3.47 252.83 419.14)"/>
<ellipse cx="245.39" cy="425.62" rx="2.29" ry="2.82" fill="#e9ecf2" opacity="0.6" transform="rotate(8.12 245.39 425.62)"/>
<ellipse cx="235.27" cy="441.48" rx="2.37" ry="2.79" fill="#c6cbd7" opacity="0.6" transform="rotate(20.67 235.27 441.48)"/>
<ellipse cx="240.82" cy="401.95" rx="3.29" ry="2.62" fill="#bcc2cf" opacity="0.6" transform="rotate(-37.44 240.82 401.95)"/>
<ellipse cx="236.59" cy="451.22" rx="4.32" ry="2.32" fill="#e9ecf2" opacity="0.6" transform="rotate(20.49 236.59 451.22)"/>
<ellipse cx="252.01" cy="446.39" rx="3.35" ry="2.28" fill="#f1f3f7" opacity="0.6" transform="rotate(-27.32 252.01 446.39)"/>
<ellipse cx="241.95" cy="393.98" rx="3.08" ry="1.24" fill="#bcc2cf" opacity="0.6" transform="rotate(-26.1 241.95 393.98)"/>
<ellipse cx="244.44" cy="407.82" rx="3.2" ry="1.66" fill="#cfd4de" opacity="0.6" transform="rotate(22.72 244.44 407.82)"/>
<ellipse cx="249.1" cy="439.25" rx="2.71" ry="2" fill="#f1f3f7" opacity="0.6" transform="rotate(-2.41 249.1 439.25)"/>
<ellipse cx="241.94" cy="429.43" rx="3.57" ry="2.52" fill="#e9ecf2" opacity="0.6" transform="rotate(-1.14 241.94 429.43)"/>
<ellipse cx="255.41" cy="442.29" rx="4.07" ry="1.82" fill="#bcc2cf" opacity="0.6" transform="rotate(-30.61 255.41 442.29)"/>
<ellipse cx="235.08" cy="448.34" rx="2.49" ry="2.04" fill="#bcc2cf" opacity="0.6" transform="rotate(32.34 235.08 448.34)"/>
<ellipse cx="239.84" cy="395.28" rx="3.68" ry="2.8" fill="#cfd4de" opacity="0.6" transform="rotate(-9.88 239.84 395.28)"/>
<path d="M232.4,377.1 q1,-7 8,-6.5 q4,-5 9,-1.5 q6,1 4,6 q-2,5 -10,4 q-8,2.5 -11,-2z" fill="#e9eaee"/>
<ellipse cx="239.9" cy="375.8" rx="2.6" ry="1.2" fill="#6f6a5c" opacity="0.75"/>
<ellipse cx="245.9" cy="374.1" rx="2.2" ry="1.2" fill="#fbfbfb"/>
<ellipse cx="243.4" cy="377.6" rx="3" ry="0.9" fill="#8d8776" opacity="0.6"/>
<path d="M236.4,467.5 q1,-7 8,-6.5 q4,-5 9,-1.5 q6,1 4,6 q-2,5 -10,4 q-8,2.5 -11,-2z" fill="#e9eaee"/>
<ellipse cx="243.9" cy="466.2" rx="2.6" ry="1.2" fill="#6f6a5c" opacity="0.75"/>
<ellipse cx="249.9" cy="464.5" rx="2.2" ry="1.2" fill="#fbfbfb"/>
<ellipse cx="247.4" cy="468" rx="3" ry="0.9" fill="#8d8776" opacity="0.6"/>
<polygon points="279.6,373 338.2,373.4 336.4,471.2 277.4,469.6" fill="url(#gold)" stroke="#a8662e" stroke-width="0.9" stroke-opacity="0.55"/>
<polygon points="281.45,388.5 335.71,389.09 334.57,450.85 280.06,449.5" fill="url(#silv)"/>
<ellipse cx="298.57" cy="384.08" rx="4.15" ry="1.68" fill="#b88a36" opacity="0.75"/>
<ellipse cx="288.77" cy="458.7" rx="3.01" ry="1.2" fill="#c9a24a" opacity="0.75"/>
<ellipse cx="306.2" cy="376.21" rx="4.23" ry="1.34" fill="#d9bb63" opacity="0.75"/>
<ellipse cx="329.24" cy="465.66" rx="4.5" ry="1.53" fill="#fbf3cf" opacity="0.75"/>
<ellipse cx="325.58" cy="379.85" rx="3.92" ry="1.02" fill="#d9bb63" opacity="0.75"/>
<ellipse cx="310.71" cy="466.04" rx="1.8" ry="1.59" fill="#c9a24a" opacity="0.75"/>
<ellipse cx="326.36" cy="381.62" rx="2.86" ry="1.1" fill="#fbf3cf" opacity="0.75"/>
<ellipse cx="283.79" cy="454.27" rx="2.82" ry="1.25" fill="#d9bb63" opacity="0.75"/>
<ellipse cx="289.61" cy="382.96" rx="2.19" ry="1.11" fill="#d9bb63" opacity="0.75"/>
<ellipse cx="327.17" cy="456.46" rx="3" ry="1.73" fill="#d9bb63" opacity="0.75"/>
<ellipse cx="326.89" cy="401.85" rx="4.08" ry="2.39" fill="#f1f3f7" opacity="0.6" transform="rotate(-24.36 326.89 401.85)"/>
<ellipse cx="324.86" cy="410.33" rx="2.92" ry="1.34" fill="#cfd4de" opacity="0.6" transform="rotate(39.63 324.86 410.33)"/>
<ellipse cx="293.28" cy="425.91" rx="2.07" ry="2.76" fill="#f1f3f7" opacity="0.6" transform="rotate(12.01 293.28 425.91)"/>
<ellipse cx="298.45" cy="436.29" rx="4.38" ry="1.55" fill="#bcc2cf" opacity="0.6" transform="rotate(17.05 298.45 436.29)"/>
<ellipse cx="289.95" cy="429.47" rx="4.31" ry="1.89" fill="#f1f3f7" opacity="0.6" transform="rotate(-26.45 289.95 429.47)"/>
<ellipse cx="326.03" cy="397.26" rx="3.57" ry="1.54" fill="#cfd4de" opacity="0.6" transform="rotate(-21.16 326.03 397.26)"/>
<ellipse cx="316.25" cy="434.77" rx="2.62" ry="2.32" fill="#f1f3f7" opacity="0.6" transform="rotate(7.19 316.25 434.77)"/>
<ellipse cx="294.62" cy="407.35" rx="4.28" ry="2.33" fill="#e9ecf2" opacity="0.6" transform="rotate(-29.4 294.62 407.35)"/>
<ellipse cx="316.41" cy="416.41" rx="1.73" ry="2.83" fill="#f1f3f7" opacity="0.6" transform="rotate(2.46 316.41 416.41)"/>
<ellipse cx="285.5" cy="424.08" rx="2.35" ry="1.5" fill="#f6f7fa" opacity="0.6" transform="rotate(-33.03 285.5 424.08)"/>
<ellipse cx="297.41" cy="432.82" rx="2.24" ry="1.56" fill="#f6f7fa" opacity="0.6" transform="rotate(-37.69 297.41 432.82)"/>
<ellipse cx="322.5" cy="398.94" rx="4.19" ry="2.24" fill="#f6f7fa" opacity="0.6" transform="rotate(-9.22 322.5 398.94)"/>
<ellipse cx="329.4" cy="418.49" rx="2.04" ry="2.11" fill="#cfd4de" opacity="0.6" transform="rotate(32.78 329.4 418.49)"/>
<ellipse cx="299.18" cy="417.58" rx="1.6" ry="1.58" fill="#cfd4de" opacity="0.6" transform="rotate(14.74 299.18 417.58)"/>
<ellipse cx="309.1" cy="443.79" rx="2.02" ry="2.56" fill="#c6cbd7" opacity="0.6" transform="rotate(-31.03 309.1 443.79)"/>
<ellipse cx="304.88" cy="427.93" rx="3.14" ry="1.51" fill="#cfd4de" opacity="0.6" transform="rotate(23.29 304.88 427.93)"/>
<ellipse cx="294.96" cy="417.89" rx="2.16" ry="2.16" fill="#bcc2cf" opacity="0.6" transform="rotate(-19.09 294.96 417.89)"/>
<ellipse cx="293.3" cy="444.86" rx="1.66" ry="1.9" fill="#c6cbd7" opacity="0.6" transform="rotate(-14 293.3 444.86)"/>
<ellipse cx="313.46" cy="424.58" rx="3.92" ry="2.01" fill="#cfd4de" opacity="0.6" transform="rotate(-18.96 313.46 424.58)"/>
<ellipse cx="322.9" cy="394.56" rx="4.22" ry="2.14" fill="#f6f7fa" opacity="0.6" transform="rotate(6.36 322.9 394.56)"/>
<ellipse cx="319.11" cy="425.4" rx="1.66" ry="1.85" fill="#cfd4de" opacity="0.6" transform="rotate(-14.85 319.11 425.4)"/>
<ellipse cx="314.1" cy="419.93" rx="2.29" ry="2.18" fill="#f1f3f7" opacity="0.6" transform="rotate(12.01 314.1 419.93)"/>
<ellipse cx="308.6" cy="411.72" rx="2.24" ry="1.99" fill="#cfd4de" opacity="0.6" transform="rotate(26.47 308.6 411.72)"/>
<ellipse cx="322.32" cy="393.92" rx="2.73" ry="1.73" fill="#c6cbd7" opacity="0.6" transform="rotate(16.3 322.32 393.92)"/>
<ellipse cx="330.79" cy="397.69" rx="3.77" ry="2.2" fill="#c6cbd7" opacity="0.6" transform="rotate(-28.43 330.79 397.69)"/>
<ellipse cx="305.86" cy="432.22" rx="1.62" ry="1.48" fill="#f6f7fa" opacity="0.6" transform="rotate(-28.68 305.86 432.22)"/>
<ellipse cx="302.76" cy="407.19" rx="2.77" ry="1.15" fill="#f1f3f7" opacity="0.6" transform="rotate(14.39 302.76 407.19)"/>
<ellipse cx="318.86" cy="445.16" rx="3.34" ry="1.59" fill="#f1f3f7" opacity="0.6" transform="rotate(4.15 318.86 445.16)"/>
<ellipse cx="295.25" cy="416.35" rx="4.3" ry="1.73" fill="#e9ecf2" opacity="0.6" transform="rotate(35.71 295.25 416.35)"/>
<ellipse cx="329.1" cy="402.73" rx="1.98" ry="2.17" fill="#f1f3f7" opacity="0.6" transform="rotate(18.99 329.1 402.73)"/>
<ellipse cx="311.43" cy="441.57" rx="4.15" ry="2.85" fill="#c6cbd7" opacity="0.6" transform="rotate(-2.99 311.43 441.57)"/>
<ellipse cx="302.76" cy="437.71" rx="2.64" ry="2.56" fill="#c6cbd7" opacity="0.6" transform="rotate(-6.52 302.76 437.71)"/>
<ellipse cx="295.49" cy="434.92" rx="3.91" ry="1.96" fill="#bcc2cf" opacity="0.6" transform="rotate(-22.84 295.49 434.92)"/>
<ellipse cx="306.48" cy="407.78" rx="2.84" ry="2.99" fill="#cfd4de" opacity="0.6" transform="rotate(-25.47 306.48 407.78)"/>
<ellipse cx="307.44" cy="420.76" rx="2.76" ry="1.09" fill="#e9ecf2" opacity="0.6" transform="rotate(-10.97 307.44 420.76)"/>
<ellipse cx="296.88" cy="391.54" rx="2.05" ry="1.52" fill="#bcc2cf" opacity="0.6" transform="rotate(5.39 296.88 391.54)"/>
<ellipse cx="315.5" cy="402.68" rx="1.81" ry="1.11" fill="#cfd4de" opacity="0.6" transform="rotate(34.93 315.5 402.68)"/>
<ellipse cx="301.11" cy="433.38" rx="3.67" ry="2.81" fill="#f1f3f7" opacity="0.6" transform="rotate(39.84 301.11 433.38)"/>
<ellipse cx="324.91" cy="415.7" rx="4.06" ry="1.76" fill="#e9ecf2" opacity="0.6" transform="rotate(21.66 324.91 415.7)"/>
<ellipse cx="309.04" cy="393.57" rx="2.68" ry="1.48" fill="#f1f3f7" opacity="0.6" transform="rotate(-24.98 309.04 393.57)"/>
<ellipse cx="308.77" cy="397.65" rx="2.13" ry="1.82" fill="#bcc2cf" opacity="0.6" transform="rotate(3.52 308.77 397.65)"/>
<ellipse cx="290" cy="430.07" rx="2.28" ry="2.45" fill="#cfd4de" opacity="0.6" transform="rotate(-9.84 290 430.07)"/>
<ellipse cx="326.96" cy="437.24" rx="3.1" ry="1.9" fill="#c6cbd7" opacity="0.6" transform="rotate(-9.08 326.96 437.24)"/>
<ellipse cx="326.25" cy="403.16" rx="2.38" ry="1.69" fill="#c6cbd7" opacity="0.6" transform="rotate(-28.78 326.25 403.16)"/>
<ellipse cx="325.37" cy="432.34" rx="2.95" ry="1.02" fill="#cfd4de" opacity="0.6" transform="rotate(-16.15 325.37 432.34)"/>
<ellipse cx="316.55" cy="441.97" rx="2.15" ry="2.38" fill="#cfd4de" opacity="0.6" transform="rotate(-30.23 316.55 441.97)"/>
<ellipse cx="321.72" cy="411.45" rx="3.85" ry="1.52" fill="#bcc2cf" opacity="0.6" transform="rotate(-30.42 321.72 411.45)"/>
<ellipse cx="307.73" cy="417.94" rx="4.29" ry="1.57" fill="#cfd4de" opacity="0.6" transform="rotate(-17.61 307.73 417.94)"/>
<ellipse cx="291.12" cy="413.04" rx="2.93" ry="1.33" fill="#cfd4de" opacity="0.6" transform="rotate(16.98 291.12 413.04)"/>
<ellipse cx="309.09" cy="432.1" rx="4.22" ry="2.61" fill="#bcc2cf" opacity="0.6" transform="rotate(6.61 309.09 432.1)"/>
<ellipse cx="318.08" cy="421.48" rx="3.6" ry="1.05" fill="#bcc2cf" opacity="0.6" transform="rotate(-30.37 318.08 421.48)"/>
<ellipse cx="328.43" cy="441.6" rx="2.32" ry="1.75" fill="#f6f7fa" opacity="0.6" transform="rotate(-16 328.43 441.6)"/>
<ellipse cx="318.97" cy="440.12" rx="1.72" ry="1.07" fill="#e9ecf2" opacity="0.6" transform="rotate(31.34 318.97 440.12)"/>
<ellipse cx="311.34" cy="405.17" rx="3.5" ry="1.37" fill="#bcc2cf" opacity="0.6" transform="rotate(-9.25 311.34 405.17)"/>
<ellipse cx="300.2" cy="440.77" rx="1.59" ry="2.41" fill="#c6cbd7" opacity="0.6" transform="rotate(21.72 300.2 440.77)"/>
<ellipse cx="314.4" cy="425.27" rx="2.73" ry="1.83" fill="#e9ecf2" opacity="0.6" transform="rotate(-34.53 314.4 425.27)"/>
<ellipse cx="306.29" cy="415.68" rx="4.4" ry="1.77" fill="#c6cbd7" opacity="0.6" transform="rotate(14.67 306.29 415.68)"/>
<ellipse cx="296.8" cy="418.22" rx="2.92" ry="1.04" fill="#f6f7fa" opacity="0.6" transform="rotate(-24.6 296.8 418.22)"/>
<ellipse cx="294.6" cy="428.59" rx="2.2" ry="1" fill="#f6f7fa" opacity="0.6" transform="rotate(38.38 294.6 428.59)"/>
<ellipse cx="283.42" cy="421.13" rx="4.05" ry="2.53" fill="#f1f3f7" opacity="0.6" transform="rotate(9.95 283.42 421.13)"/>
<ellipse cx="311.1" cy="437.04" rx="4.41" ry="1.67" fill="#e9ecf2" opacity="0.6" transform="rotate(-31.69 311.1 437.04)"/>
<ellipse cx="284.21" cy="435.61" rx="2.12" ry="1.79" fill="#c6cbd7" opacity="0.6" transform="rotate(37.11 284.21 435.61)"/>
<ellipse cx="324.19" cy="399.43" rx="3.36" ry="1.98" fill="#f6f7fa" opacity="0.6" transform="rotate(-16.51 324.19 399.43)"/>
<ellipse cx="303.85" cy="411.04" rx="3.5" ry="2" fill="#cfd4de" opacity="0.6" transform="rotate(-20.06 303.85 411.04)"/>
<ellipse cx="299.39" cy="400.46" rx="3.04" ry="1.25" fill="#f1f3f7" opacity="0.6" transform="rotate(39.13 299.39 400.46)"/>
<ellipse cx="323.86" cy="440.09" rx="2.43" ry="2.7" fill="#f6f7fa" opacity="0.6" transform="rotate(21.77 323.86 440.09)"/>
<ellipse cx="307.12" cy="399.6" rx="4.1" ry="2.74" fill="#f1f3f7" opacity="0.6" transform="rotate(-12.43 307.12 399.6)"/>
<ellipse cx="302.98" cy="431.91" rx="3.58" ry="1.51" fill="#cfd4de" opacity="0.6" transform="rotate(-19.85 302.98 431.91)"/>
<ellipse cx="318.79" cy="408.8" rx="2.5" ry="2.52" fill="#f6f7fa" opacity="0.6" transform="rotate(26.28 318.79 408.8)"/>
<ellipse cx="311.43" cy="414.05" rx="3.62" ry="2.25" fill="#e9ecf2" opacity="0.6" transform="rotate(24.1 311.43 414.05)"/>
<ellipse cx="289.47" cy="411.61" rx="3.51" ry="1.46" fill="#c6cbd7" opacity="0.6" transform="rotate(37.91 289.47 411.61)"/>
<ellipse cx="306.68" cy="429.35" rx="3.87" ry="2.86" fill="#e9ecf2" opacity="0.6" transform="rotate(15.01 306.68 429.35)"/>
<ellipse cx="304.07" cy="425.86" rx="2.69" ry="2.87" fill="#c6cbd7" opacity="0.6" transform="rotate(-36.1 304.07 425.86)"/>
<ellipse cx="318.67" cy="397.13" rx="1.63" ry="1.57" fill="#cfd4de" opacity="0.6" transform="rotate(3.08 318.67 397.13)"/>
<path d="M316.2,377.4 q1,-7 8,-6.5 q4,-5 9,-1.5 q6,1 4,6 q-2,5 -10,4 q-8,2.5 -11,-2z" fill="#e9eaee"/>
<ellipse cx="323.7" cy="376.1" rx="2.6" ry="1.2" fill="#6f6a5c" opacity="0.75"/>
<ellipse cx="329.7" cy="374.4" rx="2.2" ry="1.2" fill="#fbfbfb"/>
<ellipse cx="327.2" cy="377.9" rx="3" ry="0.9" fill="#8d8776" opacity="0.6"/>
<path d="M284.4,467.6 q1,-7 8,-6.5 q4,-5 9,-1.5 q6,1 4,6 q-2,5 -10,4 q-8,2.5 -11,-2z" fill="#e9eaee"/>
<ellipse cx="291.9" cy="466.3" rx="2.6" ry="1.2" fill="#6f6a5c" opacity="0.75"/>
<ellipse cx="297.9" cy="464.6" rx="2.2" ry="1.2" fill="#fbfbfb"/>
<ellipse cx="295.4" cy="468.1" rx="3" ry="0.9" fill="#8d8776" opacity="0.6"/>
<polygon points="364,374.2 391.6,374 393.4,461.8 364.4,461.4" fill="url(#gold)" stroke="#a8662e" stroke-width="0.9" stroke-opacity="0.55"/>
<polygon points="365.27,389 390.71,388.9 391.94,449.31 365.54,449" fill="url(#silv)"/>
<ellipse cx="381.91" cy="380.57" rx="4.21" ry="1.63" fill="#d9bb63" opacity="0.75"/>
<ellipse cx="370.18" cy="451.57" rx="2.82" ry="1.67" fill="#fbf3cf" opacity="0.75"/>
<ellipse cx="371.16" cy="384" rx="2.72" ry="0.94" fill="#d9bb63" opacity="0.75"/>
<ellipse cx="379.55" cy="452.82" rx="2.35" ry="1.67" fill="#d9bb63" opacity="0.75"/>
<ellipse cx="370.26" cy="377.36" rx="4.3" ry="1.05" fill="#d9bb63" opacity="0.75"/>
<ellipse cx="375.05" cy="452.28" rx="4.15" ry="1.07" fill="#b88a36" opacity="0.75"/>
<ellipse cx="373.23" cy="413.01" rx="2.47" ry="1.16" fill="#c6cbd7" opacity="0.6" transform="rotate(-10.73 373.23 413.01)"/>
<ellipse cx="372.96" cy="393.82" rx="1.69" ry="2.79" fill="#e9ecf2" opacity="0.6" transform="rotate(13.62 372.96 393.82)"/>
<ellipse cx="368.14" cy="409.5" rx="1.92" ry="2.58" fill="#bcc2cf" opacity="0.6" transform="rotate(-1.26 368.14 409.5)"/>
<ellipse cx="375.88" cy="435.39" rx="2.69" ry="1.12" fill="#f6f7fa" opacity="0.6" transform="rotate(9.34 375.88 435.39)"/>
<ellipse cx="383.65" cy="404.88" rx="2.07" ry="1.58" fill="#c6cbd7" opacity="0.6" transform="rotate(39.54 383.65 404.88)"/>
<ellipse cx="376.42" cy="436.85" rx="3.67" ry="1.35" fill="#f1f3f7" opacity="0.6" transform="rotate(35.58 376.42 436.85)"/>
<ellipse cx="378.22" cy="428.12" rx="2.31" ry="1.05" fill="#f6f7fa" opacity="0.6" transform="rotate(-15.2 378.22 428.12)"/>
<ellipse cx="377.76" cy="391.58" rx="2.13" ry="2.92" fill="#f1f3f7" opacity="0.6" transform="rotate(21.35 377.76 391.58)"/>
<ellipse cx="373.06" cy="404.48" rx="4.27" ry="1.99" fill="#e9ecf2" opacity="0.6" transform="rotate(24.25 373.06 404.48)"/>
<ellipse cx="383.66" cy="433.22" rx="4.46" ry="1.2" fill="#bcc2cf" opacity="0.6" transform="rotate(-7.82 383.66 433.22)"/>
<ellipse cx="381.35" cy="404.78" rx="4.23" ry="1.05" fill="#f6f7fa" opacity="0.6" transform="rotate(-28.74 381.35 404.78)"/>
<ellipse cx="374.16" cy="430.84" rx="3.02" ry="1.55" fill="#e9ecf2" opacity="0.6" transform="rotate(10.15 374.16 430.84)"/>
<ellipse cx="376.54" cy="408.17" rx="1.7" ry="2.31" fill="#f6f7fa" opacity="0.6" transform="rotate(-32.47 376.54 408.17)"/>
<ellipse cx="374.37" cy="431.79" rx="2.13" ry="2.49" fill="#f6f7fa" opacity="0.6" transform="rotate(-15.64 374.37 431.79)"/>
<ellipse cx="371.95" cy="410.11" rx="1.97" ry="1.75" fill="#c6cbd7" opacity="0.6" transform="rotate(-5.54 371.95 410.11)"/>
<ellipse cx="368.25" cy="418.64" rx="2.71" ry="1.64" fill="#f6f7fa" opacity="0.6" transform="rotate(27.19 368.25 418.64)"/>
<ellipse cx="382.41" cy="392.14" rx="2.02" ry="1.13" fill="#f6f7fa" opacity="0.6" transform="rotate(-31.33 382.41 392.14)"/>
<ellipse cx="386.67" cy="414.66" rx="4.39" ry="1.44" fill="#bcc2cf" opacity="0.6" transform="rotate(22.43 386.67 414.66)"/>
<ellipse cx="384.79" cy="435.69" rx="1.71" ry="1.78" fill="#e9ecf2" opacity="0.6" transform="rotate(30.52 384.79 435.69)"/>
<ellipse cx="382.72" cy="419.88" rx="1.53" ry="2.46" fill="#cfd4de" opacity="0.6" transform="rotate(-9.75 382.72 419.88)"/>
<ellipse cx="380.2" cy="402.68" rx="3.35" ry="2.78" fill="#cfd4de" opacity="0.6" transform="rotate(10.29 380.2 402.68)"/>
<ellipse cx="377.58" cy="422.23" rx="1.84" ry="2.67" fill="#cfd4de" opacity="0.6" transform="rotate(19.53 377.58 422.23)"/>
<ellipse cx="376.28" cy="416.7" rx="4.01" ry="2" fill="#bcc2cf" opacity="0.6" transform="rotate(8.05 376.28 416.7)"/>
<ellipse cx="378.86" cy="419.34" rx="1.6" ry="2.25" fill="#bcc2cf" opacity="0.6" transform="rotate(-17.27 378.86 419.34)"/>
<ellipse cx="368.94" cy="394" rx="2.47" ry="2.07" fill="#e9ecf2" opacity="0.6" transform="rotate(39.43 368.94 394)"/>
<ellipse cx="381.97" cy="408.21" rx="3.71" ry="2.98" fill="#bcc2cf" opacity="0.6" transform="rotate(-35.8 381.97 408.21)"/>
<ellipse cx="386.31" cy="432.41" rx="4.19" ry="1.22" fill="#c6cbd7" opacity="0.6" transform="rotate(27.22 386.31 432.41)"/>
<ellipse cx="380.3" cy="442.57" rx="3.99" ry="2.6" fill="#f6f7fa" opacity="0.6" transform="rotate(-19.86 380.3 442.57)"/>
<ellipse cx="372.99" cy="401.17" rx="1.61" ry="1.68" fill="#f6f7fa" opacity="0.6" transform="rotate(24.57 372.99 401.17)"/>
<ellipse cx="376.62" cy="420.5" rx="4.1" ry="1.39" fill="#e9ecf2" opacity="0.6" transform="rotate(36.94 376.62 420.5)"/>
<ellipse cx="372.56" cy="396.9" rx="2.82" ry="2.51" fill="#c6cbd7" opacity="0.6" transform="rotate(-34.23 372.56 396.9)"/>
<ellipse cx="377.42" cy="394.08" rx="4.11" ry="2.95" fill="#f1f3f7" opacity="0.6" transform="rotate(23.74 377.42 394.08)"/>
<ellipse cx="370.93" cy="411.12" rx="1.8" ry="1.07" fill="#e9ecf2" opacity="0.6" transform="rotate(36.42 370.93 411.12)"/>
<ellipse cx="372.2" cy="406.87" rx="2.75" ry="2.23" fill="#f1f3f7" opacity="0.6" transform="rotate(27.94 372.2 406.87)"/>
<path d="M368,377.7 q1,-7 8,-6.5 q4,-5 9,-1.5 q6,1 4,6 q-2,5 -10,4 q-8,2.5 -11,-2z" fill="#e9eaee"/>
<ellipse cx="375.5" cy="376.4" rx="2.6" ry="1.2" fill="#6f6a5c" opacity="0.75"/>
<ellipse cx="381.5" cy="374.7" rx="2.2" ry="1.2" fill="#fbfbfb"/>
<ellipse cx="379" cy="378.2" rx="3" ry="0.9" fill="#8d8776" opacity="0.6"/>
<path d="M370.9,459.9 q1,-7 8,-6.5 q4,-5 9,-1.5 q6,1 4,6 q-2,5 -10,4 q-8,2.5 -11,-2z" fill="#e9eaee"/>
<ellipse cx="378.4" cy="458.6" rx="2.6" ry="1.2" fill="#6f6a5c" opacity="0.75"/>
<ellipse cx="384.4" cy="456.9" rx="2.2" ry="1.2" fill="#fbfbfb"/>
<ellipse cx="381.9" cy="460.4" rx="3" ry="0.9" fill="#8d8776" opacity="0.6"/>
<polygon points="421.6,375.2 479.8,376.2 478.6,470 423.6,469" fill="url(#gold)" stroke="#a8662e" stroke-width="0.9" stroke-opacity="0.55"/>
<polygon points="424.14,391 477.4,392 476.64,451 425.39,450" fill="url(#silv)"/>
<ellipse cx="454.96" cy="387.84" rx="1.72" ry="1.79" fill="#b88a36" opacity="0.75"/>
<ellipse cx="450.79" cy="456.75" rx="4.37" ry="1.77" fill="#d9bb63" opacity="0.75"/>
<ellipse cx="443.21" cy="386.84" rx="3.6" ry="1.64" fill="#fbf3cf" opacity="0.75"/>
<ellipse cx="456.99" cy="455.13" rx="2.13" ry="1.57" fill="#b88a36" opacity="0.75"/>
<ellipse cx="458.73" cy="382.7" rx="1.89" ry="0.92" fill="#fbf3cf" opacity="0.75"/>
<ellipse cx="454.61" cy="457.36" rx="2.09" ry="1.79" fill="#b88a36" opacity="0.75"/>
<ellipse cx="460.82" cy="381.45" rx="2.43" ry="1.21" fill="#b88a36" opacity="0.75"/>
<ellipse cx="428.12" cy="455.99" rx="2.62" ry="1.41" fill="#fbf3cf" opacity="0.75"/>
<ellipse cx="447.07" cy="383.18" rx="4.32" ry="1.15" fill="#d9bb63" opacity="0.75"/>
<ellipse cx="436.16" cy="460.69" rx="2.35" ry="1.67" fill="#fbf3cf" opacity="0.75"/>
<ellipse cx="472.26" cy="397.22" rx="3.45" ry="1.45" fill="#bcc2cf" opacity="0.6" transform="rotate(-8.99 472.26 397.22)"/>
<ellipse cx="462.11" cy="425.47" rx="2.85" ry="1.13" fill="#bcc2cf" opacity="0.6" transform="rotate(-13.34 462.11 425.47)"/>
<ellipse cx="454.37" cy="428.56" rx="2.3" ry="2.32" fill="#f1f3f7" opacity="0.6" transform="rotate(13.77 454.37 428.56)"/>
<ellipse cx="437.85" cy="415.22" rx="1.9" ry="2.79" fill="#e9ecf2" opacity="0.6" transform="rotate(-8.95 437.85 415.22)"/>
<ellipse cx="439.48" cy="398.51" rx="4.14" ry="2.54" fill="#f1f3f7" opacity="0.6" transform="rotate(3.67 439.48 398.51)"/>
<ellipse cx="430.78" cy="441.41" rx="1.77" ry="1.73" fill="#e9ecf2" opacity="0.6" transform="rotate(-37.58 430.78 441.41)"/>
<ellipse cx="454.66" cy="430.65" rx="4.47" ry="2.63" fill="#f1f3f7" opacity="0.6" transform="rotate(13.44 454.66 430.65)"/>
<ellipse cx="433.51" cy="396.92" rx="2.01" ry="2.01" fill="#bcc2cf" opacity="0.6" transform="rotate(13.67 433.51 396.92)"/>
<ellipse cx="455.4" cy="445.4" rx="4.43" ry="2.99" fill="#bcc2cf" opacity="0.6" transform="rotate(-5.33 455.4 445.4)"/>
<ellipse cx="437.13" cy="422.23" rx="1.83" ry="1.11" fill="#bcc2cf" opacity="0.6" transform="rotate(12.49 437.13 422.23)"/>
<ellipse cx="464.39" cy="443.33" rx="3.05" ry="2.17" fill="#bcc2cf" opacity="0.6" transform="rotate(-10.41 464.39 443.33)"/>
<ellipse cx="432.89" cy="414.31" rx="3.73" ry="1.17" fill="#c6cbd7" opacity="0.6" transform="rotate(36.67 432.89 414.31)"/>
<ellipse cx="459.8" cy="435.46" rx="4.22" ry="2.33" fill="#cfd4de" opacity="0.6" transform="rotate(-2.1 459.8 435.46)"/>
<ellipse cx="468.95" cy="416.39" rx="1.97" ry="1.74" fill="#e9ecf2" opacity="0.6" transform="rotate(35.56 468.95 416.39)"/>
<ellipse cx="469.53" cy="394.31" rx="2.55" ry="2.07" fill="#f6f7fa" opacity="0.6" transform="rotate(37.95 469.53 394.31)"/>
<ellipse cx="463.71" cy="398.09" rx="4.5" ry="2.13" fill="#f1f3f7" opacity="0.6" transform="rotate(5.43 463.71 398.09)"/>
<ellipse cx="432.25" cy="397.77" rx="3.04" ry="1.59" fill="#c6cbd7" opacity="0.6" transform="rotate(-20.26 432.25 397.77)"/>
<ellipse cx="446.08" cy="395.93" rx="2.15" ry="1.9" fill="#f6f7fa" opacity="0.6" transform="rotate(-31.64 446.08 395.93)"/>
<ellipse cx="432.64" cy="441.52" rx="3.93" ry="2.01" fill="#c6cbd7" opacity="0.6" transform="rotate(37.63 432.64 441.52)"/>
<ellipse cx="451.48" cy="414.95" rx="3.34" ry="2.73" fill="#f1f3f7" opacity="0.6" transform="rotate(-6.93 451.48 414.95)"/>
<ellipse cx="426.46" cy="401.3" rx="3.96" ry="2.47" fill="#cfd4de" opacity="0.6" transform="rotate(-9.88 426.46 401.3)"/>
<ellipse cx="440.25" cy="426.41" rx="2.71" ry="1.99" fill="#f6f7fa" opacity="0.6" transform="rotate(11.44 440.25 426.41)"/>
<ellipse cx="467.19" cy="395.49" rx="2.75" ry="1.16" fill="#e9ecf2" opacity="0.6" transform="rotate(2.94 467.19 395.49)"/>
<ellipse cx="457.91" cy="415.64" rx="4.19" ry="1.41" fill="#f6f7fa" opacity="0.6" transform="rotate(35.72 457.91 415.64)"/>
<ellipse cx="453.57" cy="420.05" rx="4.21" ry="1.79" fill="#e9ecf2" opacity="0.6" transform="rotate(-18.61 453.57 420.05)"/>
<ellipse cx="455.12" cy="404.88" rx="1.75" ry="2.58" fill="#bcc2cf" opacity="0.6" transform="rotate(-11.32 455.12 404.88)"/>
<ellipse cx="446.89" cy="417.34" rx="1.65" ry="2.67" fill="#f1f3f7" opacity="0.6" transform="rotate(-26.94 446.89 417.34)"/>
<ellipse cx="444.53" cy="410.43" rx="3.96" ry="2.35" fill="#cfd4de" opacity="0.6" transform="rotate(-10.25 444.53 410.43)"/>
<ellipse cx="441.24" cy="419.14" rx="2.19" ry="2.5" fill="#bcc2cf" opacity="0.6" transform="rotate(18.65 441.24 419.14)"/>
<ellipse cx="444.11" cy="425.04" rx="1.81" ry="2.38" fill="#e9ecf2" opacity="0.6" transform="rotate(36.86 444.11 425.04)"/>
<ellipse cx="443.73" cy="425.3" rx="2.61" ry="1.6" fill="#f6f7fa" opacity="0.6" transform="rotate(21.01 443.73 425.3)"/>
<ellipse cx="428.66" cy="402.92" rx="1.85" ry="2.52" fill="#e9ecf2" opacity="0.6" transform="rotate(-35.76 428.66 402.92)"/>
<ellipse cx="430.45" cy="406.61" rx="2.31" ry="2.59" fill="#bcc2cf" opacity="0.6" transform="rotate(11.78 430.45 406.61)"/>
<ellipse cx="444.1" cy="397.85" rx="3.22" ry="1.19" fill="#bcc2cf" opacity="0.6" transform="rotate(38.73 444.1 397.85)"/>
<ellipse cx="466.4" cy="410.72" rx="2.45" ry="2.64" fill="#e9ecf2" opacity="0.6" transform="rotate(11.38 466.4 410.72)"/>
<ellipse cx="428.7" cy="434.23" rx="1.64" ry="2.25" fill="#f6f7fa" opacity="0.6" transform="rotate(-28.92 428.7 434.23)"/>
<ellipse cx="442.48" cy="431.76" rx="3.35" ry="2.37" fill="#c6cbd7" opacity="0.6" transform="rotate(6.39 442.48 431.76)"/>
<ellipse cx="426.21" cy="432.79" rx="2.76" ry="2.36" fill="#f1f3f7" opacity="0.6" transform="rotate(-26.2 426.21 432.79)"/>
<ellipse cx="430" cy="430.01" rx="1.92" ry="2.51" fill="#cfd4de" opacity="0.6" transform="rotate(-5.05 430 430.01)"/>
<ellipse cx="431.68" cy="410.28" rx="3.7" ry="1.14" fill="#f1f3f7" opacity="0.6" transform="rotate(36.53 431.68 410.28)"/>
<ellipse cx="443.26" cy="437.91" rx="3.64" ry="2.41" fill="#bcc2cf" opacity="0.6" transform="rotate(-15.2 443.26 437.91)"/>
<ellipse cx="472.35" cy="423.25" rx="4.27" ry="1.42" fill="#bcc2cf" opacity="0.6" transform="rotate(-14.07 472.35 423.25)"/>
<ellipse cx="432.75" cy="444.16" rx="1.97" ry="1.55" fill="#bcc2cf" opacity="0.6" transform="rotate(-37.49 432.75 444.16)"/>
<ellipse cx="446.96" cy="413.39" rx="3.52" ry="2.86" fill="#bcc2cf" opacity="0.6" transform="rotate(-5.06 446.96 413.39)"/>
<ellipse cx="464.8" cy="420.62" rx="2.95" ry="2.1" fill="#c6cbd7" opacity="0.6" transform="rotate(21.84 464.8 420.62)"/>
<ellipse cx="441.71" cy="393.8" rx="3.97" ry="2.3" fill="#bcc2cf" opacity="0.6" transform="rotate(7.31 441.71 393.8)"/>
<ellipse cx="451.24" cy="413.98" rx="3.22" ry="2.68" fill="#e9ecf2" opacity="0.6" transform="rotate(21.67 451.24 413.98)"/>
<ellipse cx="433.13" cy="431.01" rx="2.69" ry="1.18" fill="#bcc2cf" opacity="0.6" transform="rotate(-21.31 433.13 431.01)"/>
<ellipse cx="438.65" cy="432.44" rx="3.22" ry="1.51" fill="#f1f3f7" opacity="0.6" transform="rotate(24.21 438.65 432.44)"/>
<ellipse cx="438.34" cy="406.13" rx="2.14" ry="2.82" fill="#f1f3f7" opacity="0.6" transform="rotate(4.76 438.34 406.13)"/>
<ellipse cx="473.42" cy="442.12" rx="2.87" ry="1.97" fill="#c6cbd7" opacity="0.6" transform="rotate(-25.1 473.42 442.12)"/>
<ellipse cx="456.1" cy="429.69" rx="3" ry="1.3" fill="#cfd4de" opacity="0.6" transform="rotate(-11.84 456.1 429.69)"/>
<ellipse cx="433.7" cy="419.47" rx="2.97" ry="1.89" fill="#e9ecf2" opacity="0.6" transform="rotate(24.46 433.7 419.47)"/>
<ellipse cx="430.69" cy="435.34" rx="2.16" ry="1.4" fill="#f6f7fa" opacity="0.6" transform="rotate(19.01 430.69 435.34)"/>
<ellipse cx="442.68" cy="401.81" rx="2.07" ry="1.34" fill="#e9ecf2" opacity="0.6" transform="rotate(15.14 442.68 401.81)"/>
<ellipse cx="443.65" cy="444.36" rx="3.66" ry="1.58" fill="#cfd4de" opacity="0.6" transform="rotate(38.56 443.65 444.36)"/>
<ellipse cx="431.31" cy="412.33" rx="2.02" ry="2.78" fill="#cfd4de" opacity="0.6" transform="rotate(-16.56 431.31 412.33)"/>
<ellipse cx="438.24" cy="400.1" rx="2.95" ry="1.55" fill="#e9ecf2" opacity="0.6" transform="rotate(23.49 438.24 400.1)"/>
<ellipse cx="471.85" cy="401.22" rx="2.67" ry="2.64" fill="#f6f7fa" opacity="0.6" transform="rotate(28.38 471.85 401.22)"/>
<ellipse cx="455.59" cy="422.36" rx="3.7" ry="2.07" fill="#cfd4de" opacity="0.6" transform="rotate(16.22 455.59 422.36)"/>
<ellipse cx="454.61" cy="427.48" rx="2.42" ry="1.85" fill="#e9ecf2" opacity="0.6" transform="rotate(12.15 454.61 427.48)"/>
<ellipse cx="452.34" cy="418.97" rx="3.56" ry="1.69" fill="#c6cbd7" opacity="0.6" transform="rotate(35.49 452.34 418.97)"/>
<ellipse cx="450.54" cy="423.57" rx="2.55" ry="1.46" fill="#f6f7fa" opacity="0.6" transform="rotate(-31.18 450.54 423.57)"/>
<ellipse cx="471.7" cy="428.49" rx="1.72" ry="2.8" fill="#f1f3f7" opacity="0.6" transform="rotate(34.68 471.7 428.49)"/>
<ellipse cx="472.71" cy="403.55" rx="2.6" ry="1.71" fill="#c6cbd7" opacity="0.6" transform="rotate(-35.09 472.71 403.55)"/>
<ellipse cx="458.36" cy="396.67" rx="1.59" ry="2.14" fill="#cfd4de" opacity="0.6" transform="rotate(37.94 458.36 396.67)"/>
<ellipse cx="473.36" cy="442.67" rx="3.13" ry="1.87" fill="#cfd4de" opacity="0.6" transform="rotate(-25.23 473.36 442.67)"/>
<ellipse cx="451.57" cy="412.13" rx="3" ry="1.4" fill="#cfd4de" opacity="0.6" transform="rotate(-31.86 451.57 412.13)"/>
<ellipse cx="432.73" cy="403.42" rx="3.58" ry="1.06" fill="#f6f7fa" opacity="0.6" transform="rotate(-32.88 432.73 403.42)"/>
<ellipse cx="469.7" cy="406.83" rx="2.16" ry="1.55" fill="#c6cbd7" opacity="0.6" transform="rotate(38.08 469.7 406.83)"/>
<ellipse cx="472.16" cy="442.97" rx="4.08" ry="2.87" fill="#f1f3f7" opacity="0.6" transform="rotate(8.71 472.16 442.97)"/>
<path d="M457.8,380.2 q1,-7 8,-6.5 q4,-5 9,-1.5 q6,1 4,6 q-2,5 -10,4 q-8,2.5 -11,-2z" fill="#e9eaee"/>
<ellipse cx="465.3" cy="378.9" rx="2.6" ry="1.2" fill="#6f6a5c" opacity="0.75"/>
<ellipse cx="471.3" cy="377.2" rx="2.2" ry="1.2" fill="#fbfbfb"/>
<ellipse cx="468.8" cy="380.7" rx="3" ry="0.9" fill="#8d8776" opacity="0.6"/>
<path d="M430.6,467 q1,-7 8,-6.5 q4,-5 9,-1.5 q6,1 4,6 q-2,5 -10,4 q-8,2.5 -11,-2z" fill="#e9eaee"/>
<ellipse cx="438.1" cy="465.7" rx="2.6" ry="1.2" fill="#6f6a5c" opacity="0.75"/>
<ellipse cx="444.1" cy="464" rx="2.2" ry="1.2" fill="#fbfbfb"/>
<ellipse cx="441.6" cy="467.5" rx="3" ry="0.9" fill="#8d8776" opacity="0.6"/>
<polygon points="496.4,375.4 528.2,375 527.8,461.6 497,462" fill="url(#gold)" stroke="#a8662e" stroke-width="0.9" stroke-opacity="0.55"/>
<polygon points="497.7,390 526.93,389.6 526.66,448.6 498.11,449" fill="url(#silv)"/>
<ellipse cx="517.54" cy="387.96" rx="3.21" ry="1.7" fill="#fbf3cf" opacity="0.75"/>
<ellipse cx="520.68" cy="451.78" rx="3.06" ry="1.76" fill="#c9a24a" opacity="0.75"/>
<ellipse cx="501.89" cy="380.56" rx="2.4" ry="1.79" fill="#d9bb63" opacity="0.75"/>
<ellipse cx="500.13" cy="458.47" rx="3.57" ry="1.32" fill="#c9a24a" opacity="0.75"/>
<ellipse cx="499.42" cy="378.12" rx="3.88" ry="1.78" fill="#b88a36" opacity="0.75"/>
<ellipse cx="508.69" cy="454.02" rx="2.54" ry="0.81" fill="#b88a36" opacity="0.75"/>
<ellipse cx="506.44" cy="423.62" rx="3.08" ry="1.67" fill="#cfd4de" opacity="0.6" transform="rotate(-11.85 506.44 423.62)"/>
<ellipse cx="515.25" cy="442.27" rx="2.74" ry="1.4" fill="#c6cbd7" opacity="0.6" transform="rotate(-19.73 515.25 442.27)"/>
<ellipse cx="511.34" cy="434.32" rx="2.5" ry="1.48" fill="#cfd4de" opacity="0.6" transform="rotate(8.82 511.34 434.32)"/>
<ellipse cx="513.98" cy="423.01" rx="3.22" ry="1.04" fill="#e9ecf2" opacity="0.6" transform="rotate(-21.42 513.98 423.01)"/>
<ellipse cx="507.32" cy="409.8" rx="3.68" ry="2.35" fill="#c6cbd7" opacity="0.6" transform="rotate(3.21 507.32 409.8)"/>
<ellipse cx="502.28" cy="433.23" rx="2.23" ry="1.44" fill="#bcc2cf" opacity="0.6" transform="rotate(4.57 502.28 433.23)"/>
<ellipse cx="503.63" cy="428.17" rx="1.71" ry="1.15" fill="#bcc2cf" opacity="0.6" transform="rotate(40 503.63 428.17)"/>
<ellipse cx="509.99" cy="428.21" rx="2.2" ry="2.99" fill="#c6cbd7" opacity="0.6" transform="rotate(-9.64 509.99 428.21)"/>
<ellipse cx="507" cy="424.04" rx="3.72" ry="1.95" fill="#f1f3f7" opacity="0.6" transform="rotate(-35.84 507 424.04)"/>
<ellipse cx="501.25" cy="443.53" rx="2.77" ry="1.32" fill="#f1f3f7" opacity="0.6" transform="rotate(-23.55 501.25 443.53)"/>
<ellipse cx="520.37" cy="443.87" rx="4.29" ry="1.68" fill="#c6cbd7" opacity="0.6" transform="rotate(-28.66 520.37 443.87)"/>
<ellipse cx="516.67" cy="443.06" rx="2.08" ry="1.27" fill="#cfd4de" opacity="0.6" transform="rotate(-21.04 516.67 443.06)"/>
<ellipse cx="519.72" cy="439.82" rx="3.5" ry="1.73" fill="#cfd4de" opacity="0.6" transform="rotate(-30.39 519.72 439.82)"/>
<ellipse cx="506.68" cy="442.7" rx="1.71" ry="1.37" fill="#e9ecf2" opacity="0.6" transform="rotate(14.11 506.68 442.7)"/>
<ellipse cx="503.29" cy="409.35" rx="3.25" ry="1.55" fill="#f6f7fa" opacity="0.6" transform="rotate(3.23 503.29 409.35)"/>
<ellipse cx="513.35" cy="433.16" rx="3.08" ry="2.89" fill="#f1f3f7" opacity="0.6" transform="rotate(12.29 513.35 433.16)"/>
<ellipse cx="500.87" cy="441.77" rx="4.43" ry="2.87" fill="#cfd4de" opacity="0.6" transform="rotate(0.3 500.87 441.77)"/>
<ellipse cx="504.13" cy="409.84" rx="3.21" ry="1.59" fill="#f6f7fa" opacity="0.6" transform="rotate(-3.22 504.13 409.84)"/>
<ellipse cx="514.15" cy="437.68" rx="2.9" ry="1.38" fill="#bcc2cf" opacity="0.6" transform="rotate(38.23 514.15 437.68)"/>
<ellipse cx="501.05" cy="433.19" rx="2.7" ry="1.1" fill="#c6cbd7" opacity="0.6" transform="rotate(-36.36 501.05 433.19)"/>
<ellipse cx="509.58" cy="436.42" rx="4.38" ry="1.05" fill="#bcc2cf" opacity="0.6" transform="rotate(23.93 509.58 436.42)"/>
<ellipse cx="511.8" cy="427.25" rx="2.9" ry="1.37" fill="#f1f3f7" opacity="0.6" transform="rotate(-26.69 511.8 427.25)"/>
<ellipse cx="522.5" cy="410.18" rx="4.04" ry="2.12" fill="#cfd4de" opacity="0.6" transform="rotate(-2.17 522.5 410.18)"/>
<ellipse cx="514.62" cy="409.12" rx="2.57" ry="2.77" fill="#f6f7fa" opacity="0.6" transform="rotate(8.99 514.62 409.12)"/>
<ellipse cx="510.22" cy="423.69" rx="2.27" ry="2.9" fill="#bcc2cf" opacity="0.6" transform="rotate(-21.33 510.22 423.69)"/>
<ellipse cx="521.68" cy="438.06" rx="4.15" ry="1.33" fill="#f6f7fa" opacity="0.6" transform="rotate(4.91 521.68 438.06)"/>
<ellipse cx="521.31" cy="433.32" rx="4.3" ry="1.63" fill="#f6f7fa" opacity="0.6" transform="rotate(6.69 521.31 433.32)"/>
<ellipse cx="504.07" cy="443.16" rx="2.35" ry="1.19" fill="#cfd4de" opacity="0.6" transform="rotate(-39.74 504.07 443.16)"/>
<ellipse cx="511.35" cy="398.05" rx="3.74" ry="2.6" fill="#cfd4de" opacity="0.6" transform="rotate(-9.68 511.35 398.05)"/>
<ellipse cx="500.54" cy="418.81" rx="2.31" ry="2.15" fill="#cfd4de" opacity="0.6" transform="rotate(5.49 500.54 418.81)"/>
<ellipse cx="501.78" cy="409.25" rx="3.42" ry="1.12" fill="#c6cbd7" opacity="0.6" transform="rotate(37.61 501.78 409.25)"/>
<ellipse cx="506.84" cy="415.91" rx="1.75" ry="2.6" fill="#c6cbd7" opacity="0.6" transform="rotate(6.66 506.84 415.91)"/>
<ellipse cx="509.52" cy="394.25" rx="2.08" ry="2.27" fill="#f1f3f7" opacity="0.6" transform="rotate(-5.9 509.52 394.25)"/>
<ellipse cx="513.07" cy="443.08" rx="2.97" ry="1.96" fill="#e9ecf2" opacity="0.6" transform="rotate(-14.72 513.07 443.08)"/>
<ellipse cx="515.57" cy="419.16" rx="4.28" ry="2.29" fill="#cfd4de" opacity="0.6" transform="rotate(26.73 515.57 419.16)"/>
<ellipse cx="518.69" cy="444.85" rx="4.25" ry="2.37" fill="#cfd4de" opacity="0.6" transform="rotate(16.93 518.69 444.85)"/>
<ellipse cx="518.82" cy="435.27" rx="2.03" ry="2.63" fill="#e9ecf2" opacity="0.6" transform="rotate(17.15 518.82 435.27)"/>
<ellipse cx="501.5" cy="435.67" rx="4.37" ry="2.32" fill="#bcc2cf" opacity="0.6" transform="rotate(23.34 501.5 435.67)"/>
<ellipse cx="514.32" cy="441.2" rx="4.3" ry="2.29" fill="#f1f3f7" opacity="0.6" transform="rotate(38.11 514.32 441.2)"/>
<path d="M500.4,378.9 q1,-7 8,-6.5 q4,-5 9,-1.5 q6,1 4,6 q-2,5 -10,4 q-8,2.5 -11,-2z" fill="#e9eaee"/>
<ellipse cx="507.9" cy="377.6" rx="2.6" ry="1.2" fill="#6f6a5c" opacity="0.75"/>
<ellipse cx="513.9" cy="375.9" rx="2.2" ry="1.2" fill="#fbfbfb"/>
<ellipse cx="511.4" cy="379.4" rx="3" ry="0.9" fill="#8d8776" opacity="0.6"/>
<path d="M504.4,460.5 q1,-7 8,-6.5 q4,-5 9,-1.5 q6,1 4,6 q-2,5 -10,4 q-8,2.5 -11,-2z" fill="#e9eaee"/>
<ellipse cx="511.9" cy="459.2" rx="2.6" ry="1.2" fill="#6f6a5c" opacity="0.75"/>
<ellipse cx="517.9" cy="457.5" rx="2.2" ry="1.2" fill="#fbfbfb"/>
<ellipse cx="515.4" cy="461" rx="3" ry="0.9" fill="#8d8776" opacity="0.6"/>
<polygon points="546.2,375 597.6,375.6 597,469.8 545.2,469" fill="url(#gold)" stroke="#a8662e" stroke-width="0.9" stroke-opacity="0.55"/>
<polygon points="548.23,391 595.3,391.63 594.91,452.76 547.58,452" fill="url(#silv)"/>
<ellipse cx="555.97" cy="380.12" rx="2.36" ry="1.19" fill="#fbf3cf" opacity="0.75"/>
<ellipse cx="557.08" cy="463.03" rx="3.77" ry="1.79" fill="#b88a36" opacity="0.75"/>
<ellipse cx="580.96" cy="385.03" rx="2.81" ry="1.21" fill="#d9bb63" opacity="0.75"/>
<ellipse cx="582.5" cy="465.36" rx="3.21" ry="1.74" fill="#d9bb63" opacity="0.75"/>
<ellipse cx="558.74" cy="385.53" rx="1.62" ry="1.68" fill="#d9bb63" opacity="0.75"/>
<ellipse cx="582.94" cy="456.97" rx="3.46" ry="1.58" fill="#b88a36" opacity="0.75"/>
<ellipse cx="571.07" cy="380.79" rx="2.32" ry="0.99" fill="#fbf3cf" opacity="0.75"/>
<ellipse cx="578.3" cy="466.25" rx="2.49" ry="1.73" fill="#c9a24a" opacity="0.75"/>
<ellipse cx="561.52" cy="388.42" rx="3.36" ry="1.76" fill="#c9a24a" opacity="0.75"/>
<ellipse cx="563.33" cy="457.63" rx="3.07" ry="1.29" fill="#c9a24a" opacity="0.75"/>
<ellipse cx="554.14" cy="432.49" rx="1.65" ry="2.51" fill="#f6f7fa" opacity="0.6" transform="rotate(-20.02 554.14 432.49)"/>
<ellipse cx="558.49" cy="425.52" rx="2.22" ry="1.66" fill="#f1f3f7" opacity="0.6" transform="rotate(-12.81 558.49 425.52)"/>
<ellipse cx="590.74" cy="409.55" rx="4.08" ry="2.71" fill="#f6f7fa" opacity="0.6" transform="rotate(-6.85 590.74 409.55)"/>
<ellipse cx="567.3" cy="406.18" rx="2.92" ry="2.92" fill="#f1f3f7" opacity="0.6" transform="rotate(-5.65 567.3 406.18)"/>
<ellipse cx="570.24" cy="416.29" rx="3.39" ry="2.62" fill="#f6f7fa" opacity="0.6" transform="rotate(32.2 570.24 416.29)"/>
<ellipse cx="560.7" cy="423.31" rx="4.49" ry="2.06" fill="#c6cbd7" opacity="0.6" transform="rotate(-25.45 560.7 423.31)"/>
<ellipse cx="591.95" cy="427.45" rx="2.05" ry="2.94" fill="#cfd4de" opacity="0.6" transform="rotate(6.77 591.95 427.45)"/>
<ellipse cx="589.73" cy="408.02" rx="3.89" ry="1.08" fill="#f1f3f7" opacity="0.6" transform="rotate(-3.47 589.73 408.02)"/>
<ellipse cx="568.4" cy="398.97" rx="2.92" ry="2.91" fill="#f1f3f7" opacity="0.6" transform="rotate(4.03 568.4 398.97)"/>
<ellipse cx="550.12" cy="419.03" rx="3.34" ry="2.74" fill="#bcc2cf" opacity="0.6" transform="rotate(-0.14 550.12 419.03)"/>
<ellipse cx="583.35" cy="406.71" rx="3.94" ry="1.48" fill="#f6f7fa" opacity="0.6" transform="rotate(-7.29 583.35 406.71)"/>
<ellipse cx="553.72" cy="424.58" rx="2.24" ry="2.14" fill="#bcc2cf" opacity="0.6" transform="rotate(-38.65 553.72 424.58)"/>
<ellipse cx="553.12" cy="414.9" rx="2.91" ry="1.21" fill="#c6cbd7" opacity="0.6" transform="rotate(28.17 553.12 414.9)"/>
<ellipse cx="570.7" cy="425.92" rx="2.45" ry="2.97" fill="#f1f3f7" opacity="0.6" transform="rotate(-13.15 570.7 425.92)"/>
<ellipse cx="550.96" cy="439.78" rx="3.66" ry="2.15" fill="#cfd4de" opacity="0.6" transform="rotate(-8.09 550.96 439.78)"/>
<ellipse cx="587.7" cy="407.42" rx="3.87" ry="2.42" fill="#bcc2cf" opacity="0.6" transform="rotate(-23.44 587.7 407.42)"/>
<ellipse cx="578.17" cy="404.46" rx="2.81" ry="1.42" fill="#f1f3f7" opacity="0.6" transform="rotate(-7.11 578.17 404.46)"/>
<ellipse cx="562.93" cy="436.27" rx="2.87" ry="1.95" fill="#f6f7fa" opacity="0.6" transform="rotate(-3.63 562.93 436.27)"/>
<ellipse cx="566" cy="443.29" rx="4.43" ry="2.57" fill="#bcc2cf" opacity="0.6" transform="rotate(30.89 566 443.29)"/>
<ellipse cx="553.21" cy="405.7" rx="2.19" ry="2.21" fill="#f6f7fa" opacity="0.6" transform="rotate(12.46 553.21 405.7)"/>
<ellipse cx="578.43" cy="417.37" rx="3.46" ry="1.45" fill="#f1f3f7" opacity="0.6" transform="rotate(3.13 578.43 417.37)"/>
<ellipse cx="591.65" cy="412.14" rx="3.64" ry="1.03" fill="#bcc2cf" opacity="0.6" transform="rotate(-12.44 591.65 412.14)"/>
<ellipse cx="568.15" cy="398.06" rx="2.64" ry="2.73" fill="#e9ecf2" opacity="0.6" transform="rotate(39.49 568.15 398.06)"/>
<ellipse cx="558.38" cy="444.11" rx="1.68" ry="2.17" fill="#c6cbd7" opacity="0.6" transform="rotate(26.99 558.38 444.11)"/>
<ellipse cx="566.65" cy="426.06" rx="3.64" ry="2.52" fill="#cfd4de" opacity="0.6" transform="rotate(-10.82 566.65 426.06)"/>
<ellipse cx="570.34" cy="407.35" rx="3.54" ry="1.82" fill="#c6cbd7" opacity="0.6" transform="rotate(38.97 570.34 407.35)"/>
<ellipse cx="555.83" cy="436.72" rx="2.47" ry="2.45" fill="#f1f3f7" opacity="0.6" transform="rotate(-18.04 555.83 436.72)"/>
<ellipse cx="574.12" cy="422.58" rx="2.99" ry="1.33" fill="#cfd4de" opacity="0.6" transform="rotate(23.47 574.12 422.58)"/>
<ellipse cx="571.03" cy="420.29" rx="4.22" ry="2.93" fill="#cfd4de" opacity="0.6" transform="rotate(-28.38 571.03 420.29)"/>
<ellipse cx="575.76" cy="418.78" rx="3.09" ry="2.98" fill="#f6f7fa" opacity="0.6" transform="rotate(-38.2 575.76 418.78)"/>
<ellipse cx="562.36" cy="417.23" rx="1.66" ry="1.02" fill="#f6f7fa" opacity="0.6" transform="rotate(15.35 562.36 417.23)"/>
<ellipse cx="579.34" cy="439.39" rx="2.64" ry="1.55" fill="#e9ecf2" opacity="0.6" transform="rotate(6.27 579.34 439.39)"/>
<ellipse cx="571.84" cy="423.21" rx="2.69" ry="1.81" fill="#e9ecf2" opacity="0.6" transform="rotate(10.11 571.84 423.21)"/>
<ellipse cx="585.46" cy="427.23" rx="2.12" ry="1.05" fill="#f1f3f7" opacity="0.6" transform="rotate(10.96 585.46 427.23)"/>
<ellipse cx="551.16" cy="403.71" rx="1.56" ry="1.12" fill="#f6f7fa" opacity="0.6" transform="rotate(-37.75 551.16 403.71)"/>
<ellipse cx="584.81" cy="441.13" rx="2.13" ry="2.41" fill="#cfd4de" opacity="0.6" transform="rotate(-14.27 584.81 441.13)"/>
<ellipse cx="584.49" cy="443.65" rx="4.04" ry="2.4" fill="#f1f3f7" opacity="0.6" transform="rotate(-4.65 584.49 443.65)"/>
<ellipse cx="584.53" cy="424.92" rx="3.33" ry="2.97" fill="#c6cbd7" opacity="0.6" transform="rotate(3.9 584.53 424.92)"/>
<ellipse cx="575.59" cy="410.89" rx="3.44" ry="2.84" fill="#bcc2cf" opacity="0.6" transform="rotate(30.94 575.59 410.89)"/>
<ellipse cx="557.49" cy="403.21" rx="3.28" ry="2.53" fill="#bcc2cf" opacity="0.6" transform="rotate(-11.59 557.49 403.21)"/>
<ellipse cx="580.03" cy="405.1" rx="4.15" ry="2.74" fill="#c6cbd7" opacity="0.6" transform="rotate(-1.67 580.03 405.1)"/>
<ellipse cx="552.54" cy="420.6" rx="3.51" ry="2.7" fill="#cfd4de" opacity="0.6" transform="rotate(-34.99 552.54 420.6)"/>
<ellipse cx="585.75" cy="423.42" rx="3.25" ry="1.19" fill="#f1f3f7" opacity="0.6" transform="rotate(7.48 585.75 423.42)"/>
<ellipse cx="582.38" cy="420.55" rx="3.1" ry="1.77" fill="#f1f3f7" opacity="0.6" transform="rotate(-6.59 582.38 420.55)"/>
<ellipse cx="588.63" cy="427.42" rx="3.16" ry="1.09" fill="#c6cbd7" opacity="0.6" transform="rotate(15.64 588.63 427.42)"/>
<ellipse cx="563.72" cy="419.18" rx="2.37" ry="2.12" fill="#e9ecf2" opacity="0.6" transform="rotate(-20.03 563.72 419.18)"/>
<ellipse cx="550.18" cy="444.73" rx="2.4" ry="1.03" fill="#e9ecf2" opacity="0.6" transform="rotate(-15.17 550.18 444.73)"/>
<ellipse cx="575.17" cy="408.05" rx="1.84" ry="2.69" fill="#bcc2cf" opacity="0.6" transform="rotate(14.19 575.17 408.05)"/>
<ellipse cx="558.1" cy="423.52" rx="4.14" ry="2.75" fill="#cfd4de" opacity="0.6" transform="rotate(-4.46 558.1 423.52)"/>
<ellipse cx="580.52" cy="406.67" rx="3.95" ry="1.72" fill="#e9ecf2" opacity="0.6" transform="rotate(-2.51 580.52 406.67)"/>
<ellipse cx="572.49" cy="422.85" rx="3.87" ry="2.79" fill="#c6cbd7" opacity="0.6" transform="rotate(-17.2 572.49 422.85)"/>
<ellipse cx="562.61" cy="414.93" rx="3.44" ry="1.08" fill="#bcc2cf" opacity="0.6" transform="rotate(-17.16 562.61 414.93)"/>
<ellipse cx="558.15" cy="441.64" rx="4.01" ry="2.37" fill="#cfd4de" opacity="0.6" transform="rotate(-10.29 558.15 441.64)"/>
<ellipse cx="590.13" cy="398.07" rx="3" ry="1.45" fill="#f6f7fa" opacity="0.6" transform="rotate(39.31 590.13 398.07)"/>
<ellipse cx="588.97" cy="439.78" rx="1.72" ry="1.49" fill="#e9ecf2" opacity="0.6" transform="rotate(3.48 588.97 439.78)"/>
<ellipse cx="571.89" cy="410.35" rx="4.09" ry="2.03" fill="#f1f3f7" opacity="0.6" transform="rotate(2.55 571.89 410.35)"/>
<ellipse cx="554.81" cy="441.52" rx="3.9" ry="2.43" fill="#f1f3f7" opacity="0.6" transform="rotate(-4.19 554.81 441.52)"/>
<ellipse cx="592.06" cy="443.18" rx="3.27" ry="2.09" fill="#f1f3f7" opacity="0.6" transform="rotate(6.59 592.06 443.18)"/>
<ellipse cx="557.39" cy="418.98" rx="4.2" ry="2.35" fill="#c6cbd7" opacity="0.6" transform="rotate(34.87 557.39 418.98)"/>
<ellipse cx="577.73" cy="438.49" rx="4.47" ry="2.84" fill="#f6f7fa" opacity="0.6" transform="rotate(-38.57 577.73 438.49)"/>
<ellipse cx="559.37" cy="429.77" rx="2.14" ry="1.15" fill="#e9ecf2" opacity="0.6" transform="rotate(-13.29 559.37 429.77)"/>
<ellipse cx="590.71" cy="424.29" rx="1.8" ry="2.27" fill="#e9ecf2" opacity="0.6" transform="rotate(-24.94 590.71 424.29)"/>
<ellipse cx="583.86" cy="405.53" rx="2" ry="1.69" fill="#cfd4de" opacity="0.6" transform="rotate(23.83 583.86 405.53)"/>
<ellipse cx="556" cy="404.3" rx="1.59" ry="1.33" fill="#bcc2cf" opacity="0.6" transform="rotate(11.6 556 404.3)"/>
<ellipse cx="591.84" cy="438.08" rx="4.2" ry="2.48" fill="#e9ecf2" opacity="0.6" transform="rotate(10.81 591.84 438.08)"/>
<path d="M575.6,379.6 q1,-7 8,-6.5 q4,-5 9,-1.5 q6,1 4,6 q-2,5 -10,4 q-8,2.5 -11,-2z" fill="#e9eaee"/>
<ellipse cx="583.1" cy="378.3" rx="2.6" ry="1.2" fill="#6f6a5c" opacity="0.75"/>
<ellipse cx="589.1" cy="376.6" rx="2.2" ry="1.2" fill="#fbfbfb"/>
<ellipse cx="586.6" cy="380.1" rx="3" ry="0.9" fill="#8d8776" opacity="0.6"/>
<path d="M552.2,467 q1,-7 8,-6.5 q4,-5 9,-1.5 q6,1 4,6 q-2,5 -10,4 q-8,2.5 -11,-2z" fill="#e9eaee"/>
<ellipse cx="559.7" cy="465.7" rx="2.6" ry="1.2" fill="#6f6a5c" opacity="0.75"/>
<ellipse cx="565.7" cy="464" rx="2.2" ry="1.2" fill="#fbfbfb"/>
<ellipse cx="563.2" cy="467.5" rx="3" ry="0.9" fill="#8d8776" opacity="0.6"/>
<polygon points="622,374.6 653.8,374.4 653.6,462.8 622.4,462.6" fill="url(#gold)" stroke="#a8662e" stroke-width="0.9" stroke-opacity="0.55"/>
<polygon points="623.28,392 652.56,391.88 652.43,448.13 623.53,448" fill="url(#silv)"/>
<ellipse cx="639.03" cy="389.13" rx="1.63" ry="1.36" fill="#d9bb63" opacity="0.75"/>
<ellipse cx="645.04" cy="456.96" rx="2.66" ry="1.45" fill="#d9bb63" opacity="0.75"/>
<ellipse cx="636.29" cy="389.58" rx="2.22" ry="1.08" fill="#b88a36" opacity="0.75"/>
<ellipse cx="640.38" cy="450.7" rx="2.06" ry="1.04" fill="#fbf3cf" opacity="0.75"/>
<ellipse cx="646.34" cy="385.52" rx="1.86" ry="1.43" fill="#d9bb63" opacity="0.75"/>
<ellipse cx="646.32" cy="453.39" rx="1.52" ry="1.21" fill="#d9bb63" opacity="0.75"/>
<ellipse cx="628.85" cy="406.92" rx="1.85" ry="1.72" fill="#f6f7fa" opacity="0.6" transform="rotate(-10.3 628.85 406.92)"/>
<ellipse cx="633.56" cy="401.56" rx="3.28" ry="2.83" fill="#c6cbd7" opacity="0.6" transform="rotate(-23.69 633.56 401.56)"/>
<ellipse cx="626.34" cy="427.57" rx="3.43" ry="2.25" fill="#bcc2cf" opacity="0.6" transform="rotate(-24.83 626.34 427.57)"/>
<ellipse cx="642.51" cy="397.98" rx="4.09" ry="1.07" fill="#c6cbd7" opacity="0.6" transform="rotate(-9.32 642.51 397.98)"/>
<ellipse cx="631.19" cy="416.23" rx="2.63" ry="1.33" fill="#e9ecf2" opacity="0.6" transform="rotate(17.79 631.19 416.23)"/>
<ellipse cx="627.25" cy="436.09" rx="1.94" ry="1.32" fill="#f1f3f7" opacity="0.6" transform="rotate(31.7 627.25 436.09)"/>
<ellipse cx="631.56" cy="427.01" rx="1.93" ry="2.43" fill="#c6cbd7" opacity="0.6" transform="rotate(27.71 631.56 427.01)"/>
<ellipse cx="639.72" cy="440.73" rx="1.61" ry="1.23" fill="#e9ecf2" opacity="0.6" transform="rotate(-25.6 639.72 440.73)"/>
<ellipse cx="636.29" cy="416.29" rx="1.72" ry="2.04" fill="#f1f3f7" opacity="0.6" transform="rotate(-26.51 636.29 416.29)"/>
<ellipse cx="638.23" cy="413.15" rx="1.95" ry="2.14" fill="#f6f7fa" opacity="0.6" transform="rotate(-32.29 638.23 413.15)"/>
<ellipse cx="626.21" cy="409.68" rx="4.46" ry="1.06" fill="#e9ecf2" opacity="0.6" transform="rotate(34.83 626.21 409.68)"/>
<ellipse cx="635.67" cy="434.23" rx="4.06" ry="1.58" fill="#e9ecf2" opacity="0.6" transform="rotate(35.19 635.67 434.23)"/>
<ellipse cx="629.07" cy="413.55" rx="3.62" ry="1.74" fill="#cfd4de" opacity="0.6" transform="rotate(-31.39 629.07 413.55)"/>
<ellipse cx="640.89" cy="407.45" rx="2.39" ry="1.49" fill="#f1f3f7" opacity="0.6" transform="rotate(15.96 640.89 407.45)"/>
<ellipse cx="647.05" cy="403.47" rx="2.68" ry="2.71" fill="#e9ecf2" opacity="0.6" transform="rotate(-30.99 647.05 403.47)"/>
<ellipse cx="648.3" cy="431.76" rx="4.1" ry="1.72" fill="#f6f7fa" opacity="0.6" transform="rotate(14.13 648.3 431.76)"/>
<ellipse cx="639.16" cy="438.91" rx="4.17" ry="1.55" fill="#c6cbd7" opacity="0.6" transform="rotate(27.14 639.16 438.91)"/>
<ellipse cx="640.95" cy="442.98" rx="1.93" ry="1.81" fill="#f6f7fa" opacity="0.6" transform="rotate(-32.81 640.95 442.98)"/>
<ellipse cx="643.7" cy="427.43" rx="2.8" ry="2.16" fill="#c6cbd7" opacity="0.6" transform="rotate(-14.17 643.7 427.43)"/>
<ellipse cx="639.84" cy="403.76" rx="2.84" ry="2.71" fill="#f1f3f7" opacity="0.6" transform="rotate(-19 639.84 403.76)"/>
<ellipse cx="634.37" cy="429.38" rx="2.07" ry="2.7" fill="#c6cbd7" opacity="0.6" transform="rotate(-9.57 634.37 429.38)"/>
<ellipse cx="639.86" cy="431.41" rx="1.85" ry="2.38" fill="#cfd4de" opacity="0.6" transform="rotate(-13.74 639.86 431.41)"/>
<ellipse cx="632.32" cy="444.56" rx="3.41" ry="1.13" fill="#cfd4de" opacity="0.6" transform="rotate(33.54 632.32 444.56)"/>
<ellipse cx="644.25" cy="403.07" rx="2.89" ry="1.95" fill="#cfd4de" opacity="0.6" transform="rotate(-6.32 644.25 403.07)"/>
<ellipse cx="633.29" cy="414.27" rx="2.44" ry="2.48" fill="#bcc2cf" opacity="0.6" transform="rotate(3.08 633.29 414.27)"/>
<ellipse cx="640.11" cy="440.66" rx="3.47" ry="2.92" fill="#c6cbd7" opacity="0.6" transform="rotate(9.33 640.11 440.66)"/>
<ellipse cx="629.76" cy="395.8" rx="2.74" ry="1.37" fill="#cfd4de" opacity="0.6" transform="rotate(-24.42 629.76 395.8)"/>
<ellipse cx="641.35" cy="412.3" rx="3.44" ry="1.74" fill="#f1f3f7" opacity="0.6" transform="rotate(-28.87 641.35 412.3)"/>
<ellipse cx="641.42" cy="407.06" rx="2.27" ry="1.91" fill="#e9ecf2" opacity="0.6" transform="rotate(35.28 641.42 407.06)"/>
<ellipse cx="627.38" cy="427.05" rx="2.93" ry="1.2" fill="#f6f7fa" opacity="0.6" transform="rotate(-27.07 627.38 427.05)"/>
<ellipse cx="627.53" cy="421.11" rx="1.88" ry="2.21" fill="#e9ecf2" opacity="0.6" transform="rotate(33.48 627.53 421.11)"/>
<ellipse cx="634.54" cy="427.13" rx="2.61" ry="1.85" fill="#cfd4de" opacity="0.6" transform="rotate(6.56 634.54 427.13)"/>
<ellipse cx="645.65" cy="428.54" rx="4.42" ry="1.57" fill="#e9ecf2" opacity="0.6" transform="rotate(10.63 645.65 428.54)"/>
<ellipse cx="636.7" cy="394.55" rx="2.93" ry="1.53" fill="#f6f7fa" opacity="0.6" transform="rotate(32.79 636.7 394.55)"/>
<ellipse cx="629.64" cy="407.57" rx="3.12" ry="1.72" fill="#e9ecf2" opacity="0.6" transform="rotate(14.56 629.64 407.57)"/>
<ellipse cx="648.55" cy="434.43" rx="2.37" ry="1.91" fill="#f6f7fa" opacity="0.6" transform="rotate(-6.4 648.55 434.43)"/>
<ellipse cx="632.42" cy="443" rx="3.56" ry="2.86" fill="#cfd4de" opacity="0.6" transform="rotate(-1.62 632.42 443)"/>
<path d="M626,378.1 q1,-7 8,-6.5 q4,-5 9,-1.5 q6,1 4,6 q-2,5 -10,4 q-8,2.5 -11,-2z" fill="#e9eaee"/>
<ellipse cx="633.5" cy="376.8" rx="2.6" ry="1.2" fill="#6f6a5c" opacity="0.75"/>
<ellipse cx="639.5" cy="375.1" rx="2.2" ry="1.2" fill="#fbfbfb"/>
<ellipse cx="637" cy="378.6" rx="3" ry="0.9" fill="#8d8776" opacity="0.6"/>
<path d="M630,461.1 q1,-7 8,-6.5 q4,-5 9,-1.5 q6,1 4,6 q-2,5 -10,4 q-8,2.5 -11,-2z" fill="#e9eaee"/>
<ellipse cx="637.5" cy="459.8" rx="2.6" ry="1.2" fill="#6f6a5c" opacity="0.75"/>
<ellipse cx="643.5" cy="458.1" rx="2.2" ry="1.2" fill="#fbfbfb"/>
<ellipse cx="641" cy="461.6" rx="3" ry="0.9" fill="#8d8776" opacity="0.6"/>
<polygon points="672.2,377.2 731,377.8 730.4,471 671.4,470.4" fill="url(#gold)" stroke="#a8662e" stroke-width="0.9" stroke-opacity="0.55"/>
<polygon points="674.26,393 728.7,393.6 728.32,451.6 673.77,451" fill="url(#silv)"/>
<ellipse cx="693" cy="391" rx="1.64" ry="1.2" fill="#c9a24a" opacity="0.75"/>
<ellipse cx="723.12" cy="467.68" rx="2.83" ry="1.37" fill="#c9a24a" opacity="0.75"/>
<ellipse cx="705.18" cy="388.21" rx="2.83" ry="1.1" fill="#fbf3cf" opacity="0.75"/>
<ellipse cx="694.31" cy="467.04" rx="3.69" ry="0.8" fill="#b88a36" opacity="0.75"/>
<ellipse cx="699.25" cy="380.76" rx="1.91" ry="1.69" fill="#c9a24a" opacity="0.75"/>
<ellipse cx="703.41" cy="455.38" rx="2.5" ry="0.98" fill="#c9a24a" opacity="0.75"/>
<ellipse cx="689.21" cy="379.77" rx="3.62" ry="1.22" fill="#c9a24a" opacity="0.75"/>
<ellipse cx="680.64" cy="453.57" rx="3.46" ry="1.27" fill="#b88a36" opacity="0.75"/>
<ellipse cx="716.46" cy="389.95" rx="2.04" ry="1.29" fill="#fbf3cf" opacity="0.75"/>
<ellipse cx="720.86" cy="456.21" rx="3.43" ry="0.87" fill="#b88a36" opacity="0.75"/>
<ellipse cx="723.34" cy="427.76" rx="2.46" ry="2.45" fill="#f1f3f7" opacity="0.6" transform="rotate(25.32 723.34 427.76)"/>
<ellipse cx="687.95" cy="439.74" rx="3.04" ry="2.09" fill="#e9ecf2" opacity="0.6" transform="rotate(-20.1 687.95 439.74)"/>
<ellipse cx="703.57" cy="411.82" rx="2.01" ry="2.49" fill="#c6cbd7" opacity="0.6" transform="rotate(-13.06 703.57 411.82)"/>
<ellipse cx="697.01" cy="431.91" rx="3.68" ry="1.93" fill="#f1f3f7" opacity="0.6" transform="rotate(0.75 697.01 431.91)"/>
<ellipse cx="687.58" cy="407.9" rx="2.76" ry="2.69" fill="#bcc2cf" opacity="0.6" transform="rotate(-10.84 687.58 407.9)"/>
<ellipse cx="694.45" cy="404.33" rx="4.42" ry="2.21" fill="#c6cbd7" opacity="0.6" transform="rotate(-32.81 694.45 404.33)"/>
<ellipse cx="701.26" cy="422.5" rx="4.44" ry="2.66" fill="#bcc2cf" opacity="0.6" transform="rotate(-7.46 701.26 422.5)"/>
<ellipse cx="708.37" cy="414.84" rx="2.73" ry="1.73" fill="#cfd4de" opacity="0.6" transform="rotate(-19.98 708.37 414.84)"/>
<ellipse cx="699.27" cy="424.73" rx="2.3" ry="2.38" fill="#c6cbd7" opacity="0.6" transform="rotate(27.49 699.27 424.73)"/>
<ellipse cx="695.3" cy="429.06" rx="2.25" ry="1.63" fill="#f1f3f7" opacity="0.6" transform="rotate(37.55 695.3 429.06)"/>
<ellipse cx="684.72" cy="443.29" rx="3.27" ry="2.27" fill="#cfd4de" opacity="0.6" transform="rotate(-28.62 684.72 443.29)"/>
<ellipse cx="707.87" cy="442.28" rx="1.75" ry="1.51" fill="#bcc2cf" opacity="0.6" transform="rotate(-21.93 707.87 442.28)"/>
<ellipse cx="719.8" cy="413.7" rx="2.92" ry="1.4" fill="#e9ecf2" opacity="0.6" transform="rotate(34.61 719.8 413.7)"/>
<ellipse cx="716.23" cy="411.19" rx="2.94" ry="1.42" fill="#f6f7fa" opacity="0.6" transform="rotate(24.21 716.23 411.19)"/>
<ellipse cx="692.32" cy="405.15" rx="1.86" ry="1.15" fill="#cfd4de" opacity="0.6" transform="rotate(8.24 692.32 405.15)"/>
<ellipse cx="676.82" cy="419.02" rx="3.3" ry="1.64" fill="#f1f3f7" opacity="0.6" transform="rotate(1.3 676.82 419.02)"/>
<ellipse cx="697.91" cy="408.67" rx="1.9" ry="2.24" fill="#cfd4de" opacity="0.6" transform="rotate(5.95 697.91 408.67)"/>
<ellipse cx="682.34" cy="437.81" rx="1.77" ry="2.11" fill="#f1f3f7" opacity="0.6" transform="rotate(0.31 682.34 437.81)"/>
<ellipse cx="684.97" cy="427.7" rx="2.4" ry="1.63" fill="#e9ecf2" opacity="0.6" transform="rotate(31.77 684.97 427.7)"/>
<ellipse cx="723.73" cy="435.17" rx="3.44" ry="1.95" fill="#e9ecf2" opacity="0.6" transform="rotate(13.55 723.73 435.17)"/>
<ellipse cx="683.94" cy="423.09" rx="2.74" ry="2.03" fill="#cfd4de" opacity="0.6" transform="rotate(31.64 683.94 423.09)"/>
<ellipse cx="706.36" cy="438.54" rx="3.79" ry="1.89" fill="#c6cbd7" opacity="0.6" transform="rotate(19.64 706.36 438.54)"/>
<ellipse cx="719" cy="446" rx="3.83" ry="1.23" fill="#c6cbd7" opacity="0.6" transform="rotate(-2.77 719 446)"/>
<ellipse cx="704.19" cy="409.81" rx="3.84" ry="1.66" fill="#e9ecf2" opacity="0.6" transform="rotate(24.28 704.19 409.81)"/>
<ellipse cx="676.12" cy="424.03" rx="1.78" ry="2.77" fill="#f1f3f7" opacity="0.6" transform="rotate(-12.16 676.12 424.03)"/>
<ellipse cx="708.36" cy="430.36" rx="3.78" ry="1.36" fill="#e9ecf2" opacity="0.6" transform="rotate(1.64 708.36 430.36)"/>
<ellipse cx="686.19" cy="419.51" rx="2.27" ry="2.35" fill="#f1f3f7" opacity="0.6" transform="rotate(3.83 686.19 419.51)"/>
<ellipse cx="705.78" cy="425.05" rx="3.12" ry="1.98" fill="#c6cbd7" opacity="0.6" transform="rotate(26.83 705.78 425.05)"/>
<ellipse cx="694.99" cy="403.42" rx="3.98" ry="2.95" fill="#c6cbd7" opacity="0.6" transform="rotate(16.24 694.99 403.42)"/>
<ellipse cx="719.54" cy="421.21" rx="3.26" ry="2.29" fill="#e9ecf2" opacity="0.6" transform="rotate(-26.84 719.54 421.21)"/>
<ellipse cx="687.59" cy="442.7" rx="4.23" ry="1.95" fill="#c6cbd7" opacity="0.6" transform="rotate(32.65 687.59 442.7)"/>
<ellipse cx="680.59" cy="410.09" rx="4.04" ry="2.08" fill="#e9ecf2" opacity="0.6" transform="rotate(-5.04 680.59 410.09)"/>
<ellipse cx="698.83" cy="419.8" rx="2.61" ry="1.91" fill="#cfd4de" opacity="0.6" transform="rotate(36.11 698.83 419.8)"/>
<ellipse cx="719.72" cy="446.5" rx="3.59" ry="1.31" fill="#f6f7fa" opacity="0.6" transform="rotate(-9.04 719.72 446.5)"/>
<ellipse cx="693.97" cy="396.72" rx="1.74" ry="1.85" fill="#c6cbd7" opacity="0.6" transform="rotate(27 693.97 396.72)"/>
<ellipse cx="677.57" cy="411.79" rx="2.61" ry="1.62" fill="#c6cbd7" opacity="0.6" transform="rotate(-35.29 677.57 411.79)"/>
<ellipse cx="710.28" cy="427.78" rx="2.51" ry="1.37" fill="#e9ecf2" opacity="0.6" transform="rotate(-38.79 710.28 427.78)"/>
<ellipse cx="714.2" cy="407.23" rx="3.67" ry="2.58" fill="#f1f3f7" opacity="0.6" transform="rotate(-24.01 714.2 407.23)"/>
<ellipse cx="694.92" cy="419.91" rx="1.77" ry="2.68" fill="#f1f3f7" opacity="0.6" transform="rotate(-3.85 694.92 419.91)"/>
<ellipse cx="693.76" cy="420" rx="3.88" ry="1.52" fill="#f1f3f7" opacity="0.6" transform="rotate(33.6 693.76 420)"/>
<ellipse cx="706.01" cy="445.84" rx="4.31" ry="1.34" fill="#e9ecf2" opacity="0.6" transform="rotate(-23.96 706.01 445.84)"/>
<ellipse cx="716.16" cy="401.43" rx="2.41" ry="1.88" fill="#f6f7fa" opacity="0.6" transform="rotate(14.46 716.16 401.43)"/>
<ellipse cx="686.22" cy="442.59" rx="4.1" ry="2.02" fill="#f1f3f7" opacity="0.6" transform="rotate(-16.34 686.22 442.59)"/>
<ellipse cx="721.54" cy="437.75" rx="2.7" ry="1.15" fill="#bcc2cf" opacity="0.6" transform="rotate(-34.3 721.54 437.75)"/>
<ellipse cx="688.3" cy="433.76" rx="2.52" ry="1.45" fill="#f1f3f7" opacity="0.6" transform="rotate(21.99 688.3 433.76)"/>
<ellipse cx="691.38" cy="409.33" rx="2.38" ry="2.85" fill="#f6f7fa" opacity="0.6" transform="rotate(-16.73 691.38 409.33)"/>
<ellipse cx="676.9" cy="430.74" rx="2.51" ry="1.98" fill="#bcc2cf" opacity="0.6" transform="rotate(-32.58 676.9 430.74)"/>
<ellipse cx="707.09" cy="395.4" rx="3.77" ry="1.31" fill="#c6cbd7" opacity="0.6" transform="rotate(-37.64 707.09 395.4)"/>
<ellipse cx="700.02" cy="396.04" rx="4.14" ry="1.72" fill="#bcc2cf" opacity="0.6" transform="rotate(2.88 700.02 396.04)"/>
<ellipse cx="684.16" cy="417.22" rx="2.71" ry="2.67" fill="#cfd4de" opacity="0.6" transform="rotate(-0.54 684.16 417.22)"/>
<ellipse cx="693.2" cy="434.81" rx="3.01" ry="2.58" fill="#cfd4de" opacity="0.6" transform="rotate(31.51 693.2 434.81)"/>
<ellipse cx="712.24" cy="430.72" rx="2.88" ry="2.07" fill="#f6f7fa" opacity="0.6" transform="rotate(26.91 712.24 430.72)"/>
<ellipse cx="701.77" cy="447.4" rx="4.26" ry="2.67" fill="#f6f7fa" opacity="0.6" transform="rotate(2.96 701.77 447.4)"/>
<ellipse cx="703.91" cy="442.08" rx="3.3" ry="1.27" fill="#f1f3f7" opacity="0.6" transform="rotate(35.87 703.91 442.08)"/>
<ellipse cx="684.27" cy="424.84" rx="1.93" ry="2.51" fill="#bcc2cf" opacity="0.6" transform="rotate(-31 684.27 424.84)"/>
<ellipse cx="707.65" cy="438.44" rx="2.79" ry="1.66" fill="#cfd4de" opacity="0.6" transform="rotate(-9.71 707.65 438.44)"/>
<ellipse cx="710.59" cy="436.16" rx="4.38" ry="1.82" fill="#bcc2cf" opacity="0.6" transform="rotate(18.52 710.59 436.16)"/>
<ellipse cx="679.08" cy="444.55" rx="3.08" ry="1.07" fill="#bcc2cf" opacity="0.6" transform="rotate(-20.11 679.08 444.55)"/>
<ellipse cx="684.57" cy="425.73" rx="2.64" ry="1.93" fill="#bcc2cf" opacity="0.6" transform="rotate(-29.95 684.57 425.73)"/>
<ellipse cx="703.61" cy="421.57" rx="2.05" ry="1.77" fill="#f6f7fa" opacity="0.6" transform="rotate(-2.18 703.61 421.57)"/>
<ellipse cx="697.75" cy="426.59" rx="4.32" ry="2.86" fill="#f6f7fa" opacity="0.6" transform="rotate(-21.73 697.75 426.59)"/>
<ellipse cx="688.25" cy="419.37" rx="3.43" ry="2.21" fill="#e9ecf2" opacity="0.6" transform="rotate(12.52 688.25 419.37)"/>
<ellipse cx="690.74" cy="429.61" rx="1.89" ry="2.86" fill="#cfd4de" opacity="0.6" transform="rotate(36.12 690.74 429.61)"/>
<ellipse cx="723.11" cy="429.89" rx="1.8" ry="1.24" fill="#f1f3f7" opacity="0.6" transform="rotate(31.81 723.11 429.89)"/>
<ellipse cx="689.19" cy="400.43" rx="4.4" ry="2.94" fill="#cfd4de" opacity="0.6" transform="rotate(6.44 689.19 400.43)"/>
<ellipse cx="682.44" cy="413.61" rx="4.23" ry="2.53" fill="#f6f7fa" opacity="0.6" transform="rotate(8.21 682.44 413.61)"/>
<ellipse cx="710.97" cy="434.32" rx="1.91" ry="1.51" fill="#c6cbd7" opacity="0.6" transform="rotate(-26.09 710.97 434.32)"/>
<ellipse cx="713.15" cy="401.13" rx="1.61" ry="2.4" fill="#bcc2cf" opacity="0.6" transform="rotate(27.89 713.15 401.13)"/>
<ellipse cx="716.98" cy="425.03" rx="1.72" ry="2.46" fill="#cfd4de" opacity="0.6" transform="rotate(27.02 716.98 425.03)"/>
<ellipse cx="678.23" cy="398.25" rx="3.69" ry="1.98" fill="#f6f7fa" opacity="0.6" transform="rotate(39.26 678.23 398.25)"/>
<ellipse cx="698.34" cy="430.8" rx="3.5" ry="2.39" fill="#e9ecf2" opacity="0.6" transform="rotate(-35.28 698.34 430.8)"/>
<path d="M709,381.8 q1,-7 8,-6.5 q4,-5 9,-1.5 q6,1 4,6 q-2,5 -10,4 q-8,2.5 -11,-2z" fill="#e9eaee"/>
<ellipse cx="716.5" cy="380.5" rx="2.6" ry="1.2" fill="#6f6a5c" opacity="0.75"/>
<ellipse cx="722.5" cy="378.8" rx="2.2" ry="1.2" fill="#fbfbfb"/>
<ellipse cx="720" cy="382.3" rx="3" ry="0.9" fill="#8d8776" opacity="0.6"/>
<path d="M678.4,468.4 q1,-7 8,-6.5 q4,-5 9,-1.5 q6,1 4,6 q-2,5 -10,4 q-8,2.5 -11,-2z" fill="#e9eaee"/>
<ellipse cx="685.9" cy="467.1" rx="2.6" ry="1.2" fill="#6f6a5c" opacity="0.75"/>
<ellipse cx="691.9" cy="465.4" rx="2.2" ry="1.2" fill="#fbfbfb"/>
<ellipse cx="689.4" cy="468.9" rx="3" ry="0.9" fill="#8d8776" opacity="0.6"/>
<polygon points="745,378.2 774.2,378.6 773.8,464.2 745.2,463.8" fill="url(#gold)" stroke="#a8662e" stroke-width="0.9" stroke-opacity="0.55"/>
<polygon points="746.24,395 772.92,395.4 772.68,447.4 746.36,447" fill="url(#silv)"/>
<ellipse cx="767.9" cy="389.94" rx="2.64" ry="1.52" fill="#d9bb63" opacity="0.75"/>
<ellipse cx="757.34" cy="451.63" rx="2.85" ry="1.48" fill="#c9a24a" opacity="0.75"/>
<ellipse cx="751.16" cy="392.83" rx="4.26" ry="1.64" fill="#b88a36" opacity="0.75"/>
<ellipse cx="752.47" cy="454.32" rx="3.59" ry="1.71" fill="#c9a24a" opacity="0.75"/>
<ellipse cx="761.54" cy="389.24" rx="2.02" ry="1.11" fill="#b88a36" opacity="0.75"/>
<ellipse cx="755.16" cy="453.34" rx="1.71" ry="1.46" fill="#c9a24a" opacity="0.75"/>
<ellipse cx="766.1" cy="422.83" rx="1.66" ry="1.93" fill="#bcc2cf" opacity="0.6" transform="rotate(24.65 766.1 422.83)"/>
<ellipse cx="768.31" cy="435.19" rx="4.47" ry="1.92" fill="#f1f3f7" opacity="0.6" transform="rotate(8.1 768.31 435.19)"/>
<ellipse cx="761.13" cy="404.99" rx="4.01" ry="1.73" fill="#f1f3f7" opacity="0.6" transform="rotate(-39.62 761.13 404.99)"/>
<ellipse cx="765.72" cy="426.36" rx="4.46" ry="2.19" fill="#f1f3f7" opacity="0.6" transform="rotate(21.78 765.72 426.36)"/>
<ellipse cx="768.94" cy="418.73" rx="4.19" ry="1.79" fill="#f1f3f7" opacity="0.6" transform="rotate(4.33 768.94 418.73)"/>
<ellipse cx="767.46" cy="399.85" rx="3.21" ry="1.63" fill="#f1f3f7" opacity="0.6" transform="rotate(15.26 767.46 399.85)"/>
<ellipse cx="750.99" cy="411.36" rx="2.69" ry="1.25" fill="#f6f7fa" opacity="0.6" transform="rotate(0.78 750.99 411.36)"/>
<ellipse cx="756.21" cy="399.15" rx="3.36" ry="2.37" fill="#f6f7fa" opacity="0.6" transform="rotate(2.47 756.21 399.15)"/>
<ellipse cx="753.58" cy="397.67" rx="2.4" ry="2.79" fill="#e9ecf2" opacity="0.6" transform="rotate(-12.88 753.58 397.67)"/>
<ellipse cx="766.2" cy="425.74" rx="3.59" ry="1.72" fill="#bcc2cf" opacity="0.6" transform="rotate(-12.05 766.2 425.74)"/>
<ellipse cx="754.75" cy="435.33" rx="3.81" ry="2.4" fill="#f6f7fa" opacity="0.6" transform="rotate(-29.33 754.75 435.33)"/>
<ellipse cx="755.28" cy="414.74" rx="2.54" ry="1.5" fill="#f1f3f7" opacity="0.6" transform="rotate(27.19 755.28 414.74)"/>
<ellipse cx="768.91" cy="433.44" rx="1.97" ry="2.13" fill="#f6f7fa" opacity="0.6" transform="rotate(-4.94 768.91 433.44)"/>
<ellipse cx="758.35" cy="415.01" rx="2.44" ry="2.93" fill="#f1f3f7" opacity="0.6" transform="rotate(38.48 758.35 415.01)"/>
<ellipse cx="756.77" cy="400.29" rx="3.51" ry="1.52" fill="#c6cbd7" opacity="0.6" transform="rotate(-26.36 756.77 400.29)"/>
<ellipse cx="758.16" cy="417.09" rx="4.04" ry="2.95" fill="#f6f7fa" opacity="0.6" transform="rotate(39.27 758.16 417.09)"/>
<ellipse cx="766.89" cy="440.31" rx="2.26" ry="2.65" fill="#f1f3f7" opacity="0.6" transform="rotate(8.03 766.89 440.31)"/>
<ellipse cx="765.31" cy="419.67" rx="3.04" ry="2.38" fill="#c6cbd7" opacity="0.6" transform="rotate(17.38 765.31 419.67)"/>
<ellipse cx="759.63" cy="397.06" rx="3.88" ry="1.12" fill="#cfd4de" opacity="0.6" transform="rotate(-0.3 759.63 397.06)"/>
<ellipse cx="758" cy="398.31" rx="3.6" ry="1.08" fill="#f6f7fa" opacity="0.6" transform="rotate(-39.67 758 398.31)"/>
<ellipse cx="758.43" cy="443.97" rx="2.48" ry="1.35" fill="#bcc2cf" opacity="0.6" transform="rotate(-13.66 758.43 443.97)"/>
<ellipse cx="764.53" cy="424.2" rx="2.74" ry="2.05" fill="#e9ecf2" opacity="0.6" transform="rotate(29.09 764.53 424.2)"/>
<ellipse cx="762.86" cy="410.78" rx="1.76" ry="1.79" fill="#c6cbd7" opacity="0.6" transform="rotate(-24.78 762.86 410.78)"/>
<ellipse cx="749.07" cy="442.28" rx="3.75" ry="2.96" fill="#f6f7fa" opacity="0.6" transform="rotate(-0.99 749.07 442.28)"/>
<ellipse cx="758.53" cy="439.6" rx="3.62" ry="1.67" fill="#bcc2cf" opacity="0.6" transform="rotate(36.44 758.53 439.6)"/>
<ellipse cx="754.98" cy="407.96" rx="2.16" ry="1.29" fill="#f1f3f7" opacity="0.6" transform="rotate(-27.21 754.98 407.96)"/>
<ellipse cx="760.7" cy="416.45" rx="3.14" ry="2.76" fill="#e9ecf2" opacity="0.6" transform="rotate(26.17 760.7 416.45)"/>
<ellipse cx="759.73" cy="401.83" rx="1.59" ry="2.22" fill="#f6f7fa" opacity="0.6" transform="rotate(-35.98 759.73 401.83)"/>
<ellipse cx="763.14" cy="407.93" rx="3.56" ry="2.67" fill="#cfd4de" opacity="0.6" transform="rotate(-23.78 763.14 407.93)"/>
<ellipse cx="754.97" cy="420.65" rx="2.99" ry="1.21" fill="#c6cbd7" opacity="0.6" transform="rotate(3.29 754.97 420.65)"/>
<ellipse cx="750.07" cy="414.33" rx="4.23" ry="1.13" fill="#e9ecf2" opacity="0.6" transform="rotate(14.61 750.07 414.33)"/>
<path d="M749,381.7 q1,-7 8,-6.5 q4,-5 9,-1.5 q6,1 4,6 q-2,5 -10,4 q-8,2.5 -11,-2z" fill="#e9eaee"/>
<ellipse cx="756.5" cy="380.4" rx="2.6" ry="1.2" fill="#6f6a5c" opacity="0.75"/>
<ellipse cx="762.5" cy="378.7" rx="2.2" ry="1.2" fill="#fbfbfb"/>
<ellipse cx="760" cy="382.2" rx="3" ry="0.9" fill="#8d8776" opacity="0.6"/>
<path d="M751.5,462.3 q1,-7 8,-6.5 q4,-5 9,-1.5 q6,1 4,6 q-2,5 -10,4 q-8,2.5 -11,-2z" fill="#e9eaee"/>
<ellipse cx="759" cy="461" rx="2.6" ry="1.2" fill="#6f6a5c" opacity="0.75"/>
<ellipse cx="765" cy="459.3" rx="2.2" ry="1.2" fill="#fbfbfb"/>
<ellipse cx="762.5" cy="462.8" rx="3" ry="0.9" fill="#8d8776" opacity="0.6"/>
<text x="149.4" y="510.8" font-family='"Liberation Sans", Arial, Helvetica, sans-serif' font-weight="700" font-size="36.4" fill="#fff" stroke="#fff" stroke-width="0.9" stroke-linejoin="round">10 mm</text>
<rect x="177" y="520.5" width="61.5" height="9.7" fill="#fff"/>
</g></g>
<g id="panelC">
<defs><clipPath id="pinkclip"><ellipse cx="284.2" cy="960.4" rx="65.0" ry="162.1" transform="rotate(17.5 284.2 960.4)"/></clipPath><clipPath id="leftclip"><rect x="200" y="780" width="106.5" height="200"/></clipPath></defs>
<ellipse cx="432.2" cy="1043.6" rx="131.6" ry="56.7" transform="rotate(-23.2 432.2 1043.6)" fill="#96cde0"/>
<ellipse cx="421.3" cy="854.9" rx="154.6" ry="57.1" transform="rotate(-16 421.3 854.9)" fill="#96dccb"/>
<ellipse cx="284.2" cy="960.4" rx="65.0" ry="162.1" transform="rotate(17.5 284.2 960.4)" fill="#dbaca9"/>
<g clip-path="url(#pinkclip)"><g clip-path="url(#leftclip)"><ellipse cx="420.3" cy="854.9" rx="154.1" ry="57.1" transform="rotate(-16 420.3 854.9)" fill="#959f80"/></g></g>
<path d="M156.28,1127.11 L156.34,1124.52 L156.41,1121.92 L156.48,1119.33 L156.55,1116.74 L156.62,1114.15 L156.7,1111.55 L156.78,1108.96 L156.86,1106.37 L156.94,1103.77 L157.02,1101.18 L157.11,1098.59 L157.2,1095.99 L157.29,1093.4 L157.39,1090.81 L157.49,1088.21 L157.59,1085.62 L157.7,1083.03 L157.8,1080.43 L157.91,1077.84 L158.03,1075.25 L158.15,1072.66 L158.27,1070.06 L158.39,1067.47 L158.52,1064.88 L158.65,1062.28 L158.79,1059.69 L158.93,1057.1 L159.08,1054.5 L159.23,1051.91 L159.38,1049.32 L159.54,1046.72 L159.7,1044.13 L159.87,1041.54 L160.04,1038.94 L160.22,1036.35 L160.4,1033.76 L160.59,1031.17 L160.79,1028.57 L160.99,1025.98 L161.2,1023.39 L161.41,1020.79 L161.63,1018.2 L161.85,1015.61 L162.09,1013.01 L162.33,1010.42 L162.57,1007.83 L162.83,1005.23 L163.09,1002.64 L163.36,1000.05 L163.64,997.45 L163.92,994.86 L164.22,992.27 L164.52,989.68 L164.83,987.08 L165.16,984.49 L165.49,981.9 L165.83,979.3 L166.18,976.71 L166.54,974.12 L166.92,971.52 L167.3,968.93 L167.7,966.34 L168.1,963.74 L168.53,961.15 L168.96,958.56 L169.4,955.96 L169.86,953.37 L170.34,950.78 L170.82,948.19 L171.32,945.59 L171.84,943 L172.37,940.41 L172.92,937.81 L173.49,935.22 L174.07,932.63 L174.67,930.03 L175.28,927.44 L175.92,924.85 L176.57,922.25 L177.25,919.66 L177.97,917.07 L178.76,914.48 L179.56,911.88 L180.4,909.29 L181.25,906.7 L182.14,904.1 L183.05,901.51 L183.99,898.92 L184.95,896.32 L185.95,893.73 L186.97,891.14 L188.03,888.54 L189.11,885.95 L190.23,883.36 L191.38,880.76 L192.57,878.17 L193.8,875.58 L195.05,872.99 L196.35,870.39 L197.69,867.8 L199.07,865.21 L200.48,862.61 L201.94,860.02 L203.45,857.43 L205,854.83 L206.59,852.24 L208.24,849.65 L209.93,847.05 L211.67,844.46 L213.47,841.87 L215.32,839.27 L217.23,836.68 L219.19,834.09 L221.21,831.5 L223.29,828.9 L225.44,826.31 L227.65,823.72 L229.92,821.12 L232.27,818.53 L234.68,815.94 L237.17,813.34 L239.73,810.75 L242.37,808.16 L245.08,805.56 L247.88,802.97 L250.76,800.38 L253.73,797.78 L256.79,795.19 L259.94,792.6 L263.18,790.01 L266.53,787.41 L269.97,784.82 L273.51,782.23 L277.16,779.63 L280.93,777.04 L284.8,774.45 L288.79,771.85 L292.9,769.26 L297.13,766.67 L301.49,764.07 L305.98,761.48 L310.61,758.89 L315.37,756.29 L320.28,753.7 L325.33,751.11 L330.54,748.52 L335.9,745.92 L341.43,743.33 L347.11,740.74 L352.97,738.14 L359.01,735.55 L365.22,732.96 L371.63,730.36 L378.22,727.77 L385.02,725.18 L392.01,722.58 L399.22,719.99 L406.64,717.4 L414.29,714.8 L422.16,712.21 L430.27,709.62 L438.63,707.03 L447.23,704.43 L456.09,701.84 L465.22,699.25 L474.62,696.65 L484.31,694.06 L494.28,691.47 L504.56,688.87 L515.14,686.28 L526.04,683.69 L537.27,681.09 L548.83,678.5 L560.74,675.91 L573.01,673.31 L585.65,670.72 L598.66,668.13 L612.07,665.54 L625.88,662.94 L640.1,660.35 L654.75,657.76 L669,655.31" fill="none" stroke="#000" stroke-width="3.2" stroke-dasharray="9.8 6.0"/>
<path d="M238,1025.13 C281.1,1005.15 424.77,931.37 496.6,905.21 C568.43,879.06 625.9,876.89 669,868.21 C712.1,859.52 740.83,855.62 755.2,853.11" fill="none" stroke="#7a7a7a" stroke-width="3.2" stroke-linecap="round"/>
<path d="M324.2,1089.15 L410.4,1057.29 L531.08,1020.64" fill="none" stroke="#ee82ee" stroke-width="3.2" stroke-linecap="round"/>
<path d="M231.1,1095.3 C246.62,1090.27 294.32,1076.73 324.2,1065.11 C354.08,1053.49 388.13,1034 410.4,1025.56 C432.67,1017.13 449.91,1016.34 457.81,1014.49" fill="none" stroke="#e2661a" stroke-width="3.2" stroke-linecap="round"/>
<path d="M306.96,869.06 C321.33,865.08 362.99,854.14 393.16,845.18 C423.33,836.22 463.56,821.52 487.98,815.28 C512.4,809.03 531.08,808.96 539.7,807.7" fill="none" stroke="#b27ee0" stroke-width="3.2" stroke-linecap="round"/>
<path d="M341.44,885.34 C346.18,882.62 351.21,877.22 369.89,869.06 C388.56,860.9 426.63,845.14 453.5,836.39 C480.37,827.63 518.15,819.86 531.08,816.55" fill="none" stroke="#24c0c6" stroke-width="3.2" stroke-linecap="round"/>
<path d="M194.04,930.36 L238.86,901.72 L281.53,860.21 L325.06,831.39" fill="none" stroke="#3dae7c" stroke-width="3.2" stroke-linecap="round"/>
<path d="M254.81,841.7 C264.94,834.59 291.08,812.22 315.58,799.08 C340.08,785.94 371.61,773.86 401.78,762.86 C431.95,751.87 480.8,738.08 496.6,733.12" fill="none" stroke="#9a9a1c" stroke-width="3.2" stroke-linecap="round"/>
<path d="M238,822.28 C252.37,812.13 295.61,777.61 324.2,761.37 C352.79,745.12 380.8,735.02 409.54,724.79 C438.27,714.56 467.72,707.62 496.6,699.98 C525.48,692.34 554.07,685.71 582.8,678.95 C611.53,672.19 654.63,662.68 669,659.43" fill="none" stroke="#e60c16" stroke-width="3.2" stroke-linecap="round"/>
<circle cx="238" cy="1025.13" r="9.0" fill="none" stroke="#7a7a7a" stroke-width="3.2"/>
<circle cx="496.6" cy="905.21" r="9.0" fill="none" stroke="#7a7a7a" stroke-width="3.2"/>
<circle cx="669" cy="868.21" r="9.0" fill="none" stroke="#7a7a7a" stroke-width="3.2"/>
<circle cx="755.2" cy="853.11" r="9.0" fill="none" stroke="#7a7a7a" stroke-width="3.2"/>
<rect x="316.45" y="1081.4" width="15.5" height="15.5" fill="none" stroke="#ee82ee" stroke-width="3.2"/>
<rect x="402.65" y="1049.54" width="15.5" height="15.5" fill="none" stroke="#ee82ee" stroke-width="3.2"/>
<rect x="523.33" y="1012.89" width="15.5" height="15.5" fill="none" stroke="#ee82ee" stroke-width="3.2"/>
<circle cx="231.1" cy="1095.3" r="9.0" fill="none" stroke="#e2661a" stroke-width="3.2"/>
<circle cx="324.2" cy="1065.11" r="9.0" fill="none" stroke="#e2661a" stroke-width="3.2"/>
<circle cx="410.4" cy="1025.56" r="9.0" fill="none" stroke="#e2661a" stroke-width="3.2"/>
<circle cx="457.81" cy="1014.49" r="9.0" fill="none" stroke="#e2661a" stroke-width="3.2"/>
<rect x="402.65" y="1000.46" width="15.5" height="15.5" fill="none" stroke="#1a2fd0" stroke-width="3.2"/>
<polygon points="306.96,857.22 296.71,874.98 317.21,874.98" fill="none" stroke="#b27ee0" stroke-width="3.2" stroke-linejoin="miter"/>
<polygon points="393.16,833.35 382.91,851.1 403.41,851.1" fill="none" stroke="#b27ee0" stroke-width="3.2" stroke-linejoin="miter"/>
<polygon points="487.98,803.44 477.73,821.2 498.23,821.2" fill="none" stroke="#b27ee0" stroke-width="3.2" stroke-linejoin="miter"/>
<polygon points="539.7,795.87 529.45,813.62 549.95,813.62" fill="none" stroke="#b27ee0" stroke-width="3.2" stroke-linejoin="miter"/>
<polygon points="341.44,873.5 331.19,891.26 351.69,891.26" fill="none" stroke="#24c0c6" stroke-width="3.2" stroke-linejoin="miter"/>
<polygon points="369.89,857.22 359.64,874.98 380.14,874.98" fill="none" stroke="#24c0c6" stroke-width="3.2" stroke-linejoin="miter"/>
<polygon points="453.5,824.55 443.25,842.3 463.75,842.3" fill="none" stroke="#24c0c6" stroke-width="3.2" stroke-linejoin="miter"/>
<polygon points="531.08,804.72 520.83,822.47 541.33,822.47" fill="none" stroke="#24c0c6" stroke-width="3.2" stroke-linejoin="miter"/>
<polygon points="410.4,845.66 400.15,863.41 420.65,863.41" fill="none" stroke="#0a7d2a" stroke-width="3.2" stroke-linejoin="miter"/>
<polygon points="194.04,918.52 183.79,936.28 204.29,936.28" fill="none" stroke="#3dae7c" stroke-width="3.2" stroke-linejoin="miter"/>
<polygon points="238.86,889.89 228.61,907.64 249.11,907.64" fill="none" stroke="#3dae7c" stroke-width="3.2" stroke-linejoin="miter"/>
<polygon points="281.53,848.38 271.28,866.13 291.78,866.13" fill="none" stroke="#3dae7c" stroke-width="3.2" stroke-linejoin="miter"/>
<polygon points="325.06,819.55 314.81,837.31 335.31,837.31" fill="none" stroke="#3dae7c" stroke-width="3.2" stroke-linejoin="miter"/>
<circle cx="254.81" cy="841.7" r="9.0" fill="none" stroke="#9a9a1c" stroke-width="3.2"/>
<circle cx="315.58" cy="799.08" r="9.0" fill="none" stroke="#9a9a1c" stroke-width="3.2"/>
<circle cx="401.78" cy="762.86" r="9.0" fill="none" stroke="#9a9a1c" stroke-width="3.2"/>
<circle cx="496.6" cy="733.12" r="9.0" fill="none" stroke="#9a9a1c" stroke-width="3.2"/>
<polygon points="238,809.08 241.17,817.91 250.55,818.2 243.14,823.95 245.76,832.96 238,827.68 230.24,832.96 232.86,823.95 225.45,818.2 234.83,817.91" fill="#fb0a12"/>
<polygon points="324.2,748.17 327.37,757 336.75,757.29 329.34,763.03 331.96,772.05 324.2,766.77 316.44,772.05 319.06,763.03 311.65,757.29 321.03,757" fill="#fb0a12"/>
<polygon points="409.54,711.59 412.71,720.42 422.09,720.71 414.67,726.46 417.3,735.47 409.54,730.19 401.78,735.47 404.4,726.46 396.98,720.71 406.36,720.42" fill="#fb0a12"/>
<polygon points="496.6,686.78 499.77,695.61 509.15,695.9 501.74,701.65 504.36,710.66 496.6,705.38 488.84,710.66 491.46,701.65 484.05,695.9 493.43,695.61" fill="#fb0a12"/>
<polygon points="582.8,665.75 585.97,674.58 595.35,674.87 587.94,680.62 590.56,689.63 582.8,684.35 575.04,689.63 577.66,680.62 570.25,674.87 579.63,674.58" fill="#fb0a12"/>
<polygon points="669,646.23 672.17,655.06 681.55,655.35 674.14,661.1 676.76,670.11 669,664.83 661.24,670.11 663.86,661.1 656.45,655.35 665.83,655.06" fill="#fb0a12"/>
<text transform="translate(381.6,671.8) scale(1.03,1)" font-family='"Liberation Sans", Arial, Helvetica, sans-serif' font-size="27" fill="#000">Simulation</text>
<text x="687.6" y="668.6" font-family='"Liberation Sans", Arial, Helvetica, sans-serif' font-size="30.8" font-weight="700" fill="#e30b17">This work</text>
<text transform="translate(521.5,740.2) rotate(-9.4)" font-family='"Liberation Sans", Arial, Helvetica, sans-serif' font-size="28.0" font-weight="400" fill="#8f8f1a" stroke="#8f8f1a" stroke-width="0.4" ><tspan font-size="28">Ag</tspan><tspan dy="7.56" font-size="19.6">2</tspan><tspan dy="-7.56" font-size="28">Se/PVP</tspan></text>
<text transform="translate(563.4,804.8) rotate(-7.5)" font-family='"Liberation Sans", Arial, Helvetica, sans-serif' font-size="28.0" font-weight="400" fill="#a978dc" stroke="#a978dc" stroke-width="0.4" ><tspan font-size="28">Ag</tspan><tspan dy="7.56" font-size="19.6">2</tspan><tspan dy="-7.56" font-size="28">Se/Ag</tspan></text>
<text transform="translate(536.3,855.6) rotate(-9.2)" font-family='"Liberation Sans", Arial, Helvetica, sans-serif' font-size="28.0" font-weight="400" fill="#24b8b8" stroke="#24b8b8" stroke-width="0.4" ><tspan font-size="28">Ag</tspan><tspan dy="7.56" font-size="19.6">2</tspan><tspan dy="-7.56" font-size="28">Se</tspan></text>
<text transform="translate(347.3,831.8) rotate(-18.4)" font-family='"Liberation Sans", Arial, Helvetica, sans-serif' font-size="28.0" font-weight="400" fill="#3dae7c" stroke="#3dae7c" stroke-width="0.4" ><tspan font-size="28">Ag</tspan><tspan dy="7.56" font-size="19.6">2</tspan><tspan dy="-7.56" font-size="28">S</tspan></text>
<text transform="translate(392.3,903.8) rotate(-8.8)" font-family='"Liberation Sans", Arial, Helvetica, sans-serif' font-size="28.0" font-weight="400" fill="#127a2c" stroke="#127a2c" stroke-width="0.4" ><tspan font-size="28">Cu</tspan><tspan dy="7.56" font-size="19.6">2</tspan><tspan dy="-7.56" font-size="28">Se/PP</tspan></text>
<text transform="translate(608.2,920.4) rotate(-8.7)" font-family='"Liberation Sans", Arial, Helvetica, sans-serif' font-size="28.0" font-weight="400" fill="#7f7f7f" stroke="#7f7f7f" stroke-width="0.4" ><tspan font-size="28">TiS</tspan><tspan dy="7.56" font-size="19.6">2</tspan><tspan dy="-7.56" font-size="28">[(HA)NMF]</tspan></text>
<text transform="translate(386.6,990.1) rotate(-15.0)" font-family='"Liberation Sans", Arial, Helvetica, sans-serif' font-size="28.0" font-weight="400" fill="#2030d0" stroke="#2030d0" stroke-width="0.4" ><tspan font-size="28">PEDOT:PSS</tspan></text>
<text transform="translate(482.6,1014) rotate(-15.9)" font-family='"Liberation Sans", Arial, Helvetica, sans-serif' font-size="28.0" font-weight="400" fill="#de6a1e" stroke="#de6a1e" stroke-width="0.4" ><tspan font-size="28">PVDF/Ta</tspan><tspan dy="7.56" font-size="19.6">4</tspan><tspan dy="-7.56" font-size="28">SiTe</tspan></text>
<text transform="translate(501.8,1070.2) rotate(-11)" font-family='"Liberation Sans", Arial, Helvetica, sans-serif' font-size="28.0" font-weight="400" fill="#ee82ee" stroke="#ee82ee" stroke-width="0.4" ><tspan font-size="28">CNT</tspan></text>
<rect x="152.0" y="621.9" width="689.4" height="504.6" fill="none" stroke="#000" stroke-width="3.3"/>
<line x1="138.5" y1="622" x2="152.0" y2="622" stroke="#000" stroke-width="3.1"/>
<line x1="144.8" y1="692.6" x2="152.0" y2="692.6" stroke="#000" stroke-width="3.1"/>
<line x1="144.8" y1="674.81" x2="152.0" y2="674.81" stroke="#000" stroke-width="3.1"/>
<line x1="144.8" y1="662.19" x2="152.0" y2="662.19" stroke="#000" stroke-width="3.1"/>
<line x1="144.8" y1="652.4" x2="152.0" y2="652.4" stroke="#000" stroke-width="3.1"/>
<line x1="144.8" y1="644.41" x2="152.0" y2="644.41" stroke="#000" stroke-width="3.1"/>
<line x1="144.8" y1="637.65" x2="152.0" y2="637.65" stroke="#000" stroke-width="3.1"/>
<line x1="144.8" y1="631.79" x2="152.0" y2="631.79" stroke="#000" stroke-width="3.1"/>
<line x1="144.8" y1="626.62" x2="152.0" y2="626.62" stroke="#000" stroke-width="3.1"/>
<text transform="translate(116.7,636.5) scale(0.97,1)" text-anchor="end" font-family='"Liberation Sans", Arial, Helvetica, sans-serif' font-size="38.8" fill="#000">10</text>
<text transform="translate(117,620.8) scale(0.97,1)" font-family='"Liberation Sans", Arial, Helvetica, sans-serif' font-size="25.4" fill="#000">1</text>
<line x1="138.5" y1="723" x2="152.0" y2="723" stroke="#000" stroke-width="3.1"/>
<line x1="144.8" y1="793.6" x2="152.0" y2="793.6" stroke="#000" stroke-width="3.1"/>
<line x1="144.8" y1="775.81" x2="152.0" y2="775.81" stroke="#000" stroke-width="3.1"/>
<line x1="144.8" y1="763.19" x2="152.0" y2="763.19" stroke="#000" stroke-width="3.1"/>
<line x1="144.8" y1="753.4" x2="152.0" y2="753.4" stroke="#000" stroke-width="3.1"/>
<line x1="144.8" y1="745.41" x2="152.0" y2="745.41" stroke="#000" stroke-width="3.1"/>
<line x1="144.8" y1="738.65" x2="152.0" y2="738.65" stroke="#000" stroke-width="3.1"/>
<line x1="144.8" y1="732.79" x2="152.0" y2="732.79" stroke="#000" stroke-width="3.1"/>
<line x1="144.8" y1="727.62" x2="152.0" y2="727.62" stroke="#000" stroke-width="3.1"/>
<text transform="translate(116.7,737.5) scale(0.97,1)" text-anchor="end" font-family='"Liberation Sans", Arial, Helvetica, sans-serif' font-size="38.8" fill="#000">10</text>
<text transform="translate(117,721.8) scale(0.97,1)" font-family='"Liberation Sans", Arial, Helvetica, sans-serif' font-size="25.4" fill="#000">0</text>
<line x1="138.5" y1="824" x2="152.0" y2="824" stroke="#000" stroke-width="3.1"/>
<line x1="144.8" y1="894.6" x2="152.0" y2="894.6" stroke="#000" stroke-width="3.1"/>
<line x1="144.8" y1="876.81" x2="152.0" y2="876.81" stroke="#000" stroke-width="3.1"/>
<line x1="144.8" y1="864.19" x2="152.0" y2="864.19" stroke="#000" stroke-width="3.1"/>
<line x1="144.8" y1="854.4" x2="152.0" y2="854.4" stroke="#000" stroke-width="3.1"/>
<line x1="144.8" y1="846.41" x2="152.0" y2="846.41" stroke="#000" stroke-width="3.1"/>
<line x1="144.8" y1="839.65" x2="152.0" y2="839.65" stroke="#000" stroke-width="3.1"/>
<line x1="144.8" y1="833.79" x2="152.0" y2="833.79" stroke="#000" stroke-width="3.1"/>
<line x1="144.8" y1="828.62" x2="152.0" y2="828.62" stroke="#000" stroke-width="3.1"/>
<text transform="translate(108.5,838.5) scale(0.97,1)" text-anchor="end" font-family='"Liberation Sans", Arial, Helvetica, sans-serif' font-size="38.8" fill="#000">10</text>
<text transform="translate(108.8,822.8) scale(0.97,1)" font-family='"Liberation Sans", Arial, Helvetica, sans-serif' font-size="25.4" fill="#000">-1</text>
<line x1="138.5" y1="925" x2="152.0" y2="925" stroke="#000" stroke-width="3.1"/>
<line x1="144.8" y1="995.6" x2="152.0" y2="995.6" stroke="#000" stroke-width="3.1"/>
<line x1="144.8" y1="977.81" x2="152.0" y2="977.81" stroke="#000" stroke-width="3.1"/>
<line x1="144.8" y1="965.19" x2="152.0" y2="965.19" stroke="#000" stroke-width="3.1"/>
<line x1="144.8" y1="955.4" x2="152.0" y2="955.4" stroke="#000" stroke-width="3.1"/>
<line x1="144.8" y1="947.41" x2="152.0" y2="947.41" stroke="#000" stroke-width="3.1"/>
<line x1="144.8" y1="940.65" x2="152.0" y2="940.65" stroke="#000" stroke-width="3.1"/>
<line x1="144.8" y1="934.79" x2="152.0" y2="934.79" stroke="#000" stroke-width="3.1"/>
<line x1="144.8" y1="929.62" x2="152.0" y2="929.62" stroke="#000" stroke-width="3.1"/>
<text transform="translate(108.5,939.5) scale(0.97,1)" text-anchor="end" font-family='"Liberation Sans", Arial, Helvetica, sans-serif' font-size="38.8" fill="#000">10</text>
<text transform="translate(108.8,923.8) scale(0.97,1)" font-family='"Liberation Sans", Arial, Helvetica, sans-serif' font-size="25.4" fill="#000">-2</text>
<line x1="138.5" y1="1026" x2="152.0" y2="1026" stroke="#000" stroke-width="3.1"/>
<line x1="144.8" y1="1096.6" x2="152.0" y2="1096.6" stroke="#000" stroke-width="3.1"/>
<line x1="144.8" y1="1078.81" x2="152.0" y2="1078.81" stroke="#000" stroke-width="3.1"/>
<line x1="144.8" y1="1066.19" x2="152.0" y2="1066.19" stroke="#000" stroke-width="3.1"/>
<line x1="144.8" y1="1056.4" x2="152.0" y2="1056.4" stroke="#000" stroke-width="3.1"/>
<line x1="144.8" y1="1048.41" x2="152.0" y2="1048.41" stroke="#000" stroke-width="3.1"/>
<line x1="144.8" y1="1041.65" x2="152.0" y2="1041.65" stroke="#000" stroke-width="3.1"/>
<line x1="144.8" y1="1035.79" x2="152.0" y2="1035.79" stroke="#000" stroke-width="3.1"/>
<line x1="144.8" y1="1030.62" x2="152.0" y2="1030.62" stroke="#000" stroke-width="3.1"/>
<text transform="translate(108.5,1040.5) scale(0.97,1)" text-anchor="end" font-family='"Liberation Sans", Arial, Helvetica, sans-serif' font-size="38.8" fill="#000">10</text>
<text transform="translate(108.8,1024.8) scale(0.97,1)" font-family='"Liberation Sans", Arial, Helvetica, sans-serif' font-size="25.4" fill="#000">-3</text>
<line x1="138.5" y1="1127" x2="152.0" y2="1127" stroke="#000" stroke-width="3.1"/>
<text transform="translate(108.5,1141.5) scale(0.97,1)" text-anchor="end" font-family='"Liberation Sans", Arial, Helvetica, sans-serif' font-size="38.8" fill="#000">10</text>
<text transform="translate(108.8,1125.8) scale(0.97,1)" font-family='"Liberation Sans", Arial, Helvetica, sans-serif' font-size="25.4" fill="#000">-4</text>
<line x1="151.8" y1="1126.5" x2="151.8" y2="1137" stroke="#000" stroke-width="3.1"/>
<text transform="translate(151.8,1178.3) scale(0.98,1)" text-anchor="middle" font-family='"Liberation Sans", Arial, Helvetica, sans-serif' font-size="38.8" fill="#000">0</text>
<line x1="238" y1="1126.5" x2="238" y2="1132.5" stroke="#000" stroke-width="3.1"/>
<line x1="324.2" y1="1126.5" x2="324.2" y2="1137" stroke="#000" stroke-width="3.1"/>
<text transform="translate(324.2,1178.3) scale(0.98,1)" text-anchor="middle" font-family='"Liberation Sans", Arial, Helvetica, sans-serif' font-size="38.8" fill="#000">20</text>
<line x1="410.4" y1="1126.5" x2="410.4" y2="1132.5" stroke="#000" stroke-width="3.1"/>
<line x1="496.6" y1="1126.5" x2="496.6" y2="1137" stroke="#000" stroke-width="3.1"/>
<text transform="translate(496.6,1178.3) scale(0.98,1)" text-anchor="middle" font-family='"Liberation Sans", Arial, Helvetica, sans-serif' font-size="38.8" fill="#000">40</text>
<line x1="582.8" y1="1126.5" x2="582.8" y2="1132.5" stroke="#000" stroke-width="3.1"/>
<line x1="669" y1="1126.5" x2="669" y2="1137" stroke="#000" stroke-width="3.1"/>
<text transform="translate(669,1178.3) scale(0.98,1)" text-anchor="middle" font-family='"Liberation Sans", Arial, Helvetica, sans-serif' font-size="38.8" fill="#000">60</text>
<line x1="755.2" y1="1126.5" x2="755.2" y2="1132.5" stroke="#000" stroke-width="3.1"/>
<line x1="841.4" y1="1126.5" x2="841.4" y2="1137" stroke="#000" stroke-width="3.1"/>
<text transform="translate(841.4,1178.3) scale(0.98,1)" text-anchor="middle" font-family='"Liberation Sans", Arial, Helvetica, sans-serif' font-size="38.8" fill="#000">80</text>
<text x="496.6" y="1235.4" text-anchor="middle" font-family='"Liberation Sans", Arial, Helvetica, sans-serif' font-size="41.2" textLength="116.3" lengthAdjust="spacingAndGlyphs" fill="#000">&#916;T (K)</text>
<text transform="translate(41.8,1023.6) rotate(-90)" font-family='"Liberation Sans", Arial, Helvetica, sans-serif' font-size="40.4" fill="#000"><tspan font-size="40.4">PD</tspan><tspan dy="10.91" font-size="28.28">max</tspan><tspan dy="-10.91" font-size="40.4"><tspan font-family="Liberation Serif, serif" dx="-1">&#215;</tspan>L<tspan dx="-2"> </tspan>(W m</tspan><tspan dy="-16.97" font-size="27.47">-1</tspan><tspan dy="16.97" font-size="40.4">)</tspan></text>
</g>
<g id="panelD">
<rect x="162.3" y="1771.3" width="50.5" height="1" fill="#ee82ee"/>
<rect x="231.4" y="1755.38" width="50.5" height="16.92" fill="#0000ff"/>
<rect x="300.5" y="1706.11" width="50.5" height="66.19" fill="#00ff00"/>
<rect x="369.6" y="1750.07" width="50.5" height="22.23" fill="#e066ff"/>
<rect x="439.2" y="1386.81" width="49.4" height="385.39" fill="#ff0000"/>
<rect x="507.8" y="1753.22" width="50.5" height="19.08" fill="#3cf0fa"/>
<rect x="576.9" y="1768.15" width="50.5" height="4.15" fill="#808080"/>
<rect x="646" y="1605.9" width="50.5" height="166.4" fill="#b5b135"/>
<rect x="715.1" y="1771.3" width="50.5" height="1" fill="#f0843c"/>
<rect x="784.2" y="1771.3" width="50.5" height="1" fill="#2e8b2e"/>
<path d="M438.7,1769.6 L438.7,1336.3999999999999" fill="none" stroke="#000" stroke-width="4.6" stroke-linecap="round" stroke-dasharray="0 9.63"/>
<path d="M438.7,1331.8 L489.2,1331.8" fill="none" stroke="#000" stroke-width="4.6" stroke-linecap="round" stroke-dasharray="0 9.72"/>
<path d="M488.8,1331.8 L488.8,1772" fill="none" stroke="#000" stroke-width="4.6" stroke-linecap="round" stroke-dasharray="0 9.63"/>
<text transform="translate(201.2,1747.3) rotate(-90)" font-family='"Liberation Sans", Arial, Helvetica, sans-serif' font-size="31" font-weight="400" fill="#ee82ee"><tspan font-size="31">CNT</tspan></text>
<text transform="translate(269.6,1729) rotate(-90)" font-family='"Liberation Sans", Arial, Helvetica, sans-serif' font-size="31" font-weight="400" fill="#1428d2"><tspan font-size="31">PEDOT:PSS</tspan></text>
<text transform="translate(337.2,1668) rotate(-90)" font-family='"Liberation Sans", Arial, Helvetica, sans-serif' font-size="31" font-weight="400" fill="#3aae6e"><tspan font-size="31">Ag</tspan><tspan dy="8.37" font-size="21.7">2</tspan><tspan dy="-8.37" font-size="31">S</tspan></text>
<text transform="translate(406.2,1700.5) rotate(-90)" font-family='"Liberation Sans", Arial, Helvetica, sans-serif' font-size="31" font-weight="400" fill="#b27ee0"><tspan font-size="31">Ag</tspan><tspan dy="8.37" font-size="21.7">2</tspan><tspan dy="-8.37" font-size="31">Se/Ag</tspan></text>
<text transform="translate(419.8,1497.5) rotate(-90)" font-family='"Liberation Sans", Arial, Helvetica, sans-serif' font-size="33.8" font-weight="700" fill="#f00a14"><tspan font-size="33.8">This work</tspan></text>
<text transform="translate(530.7,1421) rotate(-90)" font-family='"Liberation Sans", Arial, Helvetica, sans-serif' font-size="30.6" font-weight="400" fill="#000"><tspan font-size="30.6">Simulation</tspan></text>
<text transform="translate(543.9,1720.8) rotate(-90)" font-family='"Liberation Sans", Arial, Helvetica, sans-serif' font-size="31" font-weight="400" fill="#2cc8dc"><tspan font-size="31">Ag</tspan><tspan dy="8.37" font-size="21.7">2</tspan><tspan dy="-8.37" font-size="31">Se</tspan></text>
<text transform="translate(614.3,1743) rotate(-90)" font-family='"Liberation Sans", Arial, Helvetica, sans-serif' font-size="31" font-weight="400" fill="#808080"><tspan font-size="31">TiS</tspan><tspan dy="8.37" font-size="21.7">2</tspan><tspan dy="-8.37" font-size="31">[(HA)NMF]</tspan></text>
<text transform="translate(678.8,1565.6) rotate(-90)" font-family='"Liberation Sans", Arial, Helvetica, sans-serif' font-size="31" font-weight="400" fill="#96961a"><tspan font-size="31">Ag</tspan><tspan dy="8.37" font-size="21.7">2</tspan><tspan dy="-8.37" font-size="31">Se/PVP</tspan></text>
<text transform="translate(755.5,1751.6) rotate(-90)" font-family='"Liberation Sans", Arial, Helvetica, sans-serif' font-size="31" font-weight="400" fill="#ea6a12"><tspan font-size="31">PVDF/Ta</tspan><tspan dy="8.37" font-size="21.7">4</tspan><tspan dy="-8.37" font-size="31">SiTe</tspan></text>
<text transform="translate(820.8,1747.5) rotate(-90)" font-family='"Liberation Sans", Arial, Helvetica, sans-serif' font-size="31" font-weight="400" fill="#158a1e"><tspan font-size="31">Cu</tspan><tspan dy="8.37" font-size="21.7">2</tspan><tspan dy="-8.37" font-size="31">Se/PP</tspan></text>
<rect x="153.1" y="1273.7" width="690.3" height="504.3" fill="none" stroke="#000" stroke-width="3.2"/>
<line x1="140.6" y1="1771.7" x2="153.1" y2="1771.7" stroke="#000" stroke-width="3.0"/>
<text transform="translate(131.8,1783) scale(0.97,1)" text-anchor="end" font-family='"Liberation Sans", Arial, Helvetica, sans-serif' font-size="35.2" fill="#000">0</text>
<line x1="146.6" y1="1688.75" x2="153.1" y2="1688.75" stroke="#000" stroke-width="3.0"/>
<line x1="140.6" y1="1605.8" x2="153.1" y2="1605.8" stroke="#000" stroke-width="3.0"/>
<text transform="translate(131.8,1617.1) scale(0.97,1)" text-anchor="end" font-family='"Liberation Sans", Arial, Helvetica, sans-serif' font-size="35.2" fill="#000">500</text>
<line x1="146.6" y1="1522.85" x2="153.1" y2="1522.85" stroke="#000" stroke-width="3.0"/>
<line x1="140.6" y1="1439.9" x2="153.1" y2="1439.9" stroke="#000" stroke-width="3.0"/>
<text transform="translate(131.8,1451.2) scale(0.97,1)" text-anchor="end" font-family='"Liberation Sans", Arial, Helvetica, sans-serif' font-size="35.2" fill="#000">1000</text>
<line x1="146.6" y1="1356.95" x2="153.1" y2="1356.95" stroke="#000" stroke-width="3.0"/>
<line x1="140.6" y1="1274" x2="153.1" y2="1274" stroke="#000" stroke-width="3.0"/>
<text transform="translate(131.8,1285.3) scale(0.97,1)" text-anchor="end" font-family='"Liberation Sans", Arial, Helvetica, sans-serif' font-size="35.2" fill="#000">1500</text>
<text transform="translate(46.4,1730.5) rotate(-90)" font-family='"Liberation Sans", Arial, Helvetica, sans-serif' font-size="36.7" fill="#000"><tspan font-size="36.7">PD</tspan><tspan dy="9.91" font-size="25.69">max</tspan><tspan dy="-9.91" font-size="36.7">&#183;L/&#916;T</tspan><tspan dy="-15.41" font-size="24.96"><tspan dx="-1.5">2</tspan></tspan><tspan dy="15.41" font-size="36.7"> (&#956;W m</tspan><tspan dy="-15.41" font-size="24.96"><tspan dx="-0.8">-1</tspan></tspan><tspan dy="15.41" font-size="36.7"><tspan dx="-3.2"> </tspan>K</tspan><tspan dy="-15.41" font-size="24.96">-2</tspan><tspan dy="15.41" font-size="36.7"><tspan dx="3.6">)</tspan></tspan></text>
</g>
<text x="-0.9" y="41.8" font-family='"Liberation Sans", Arial, Helvetica, sans-serif' font-weight="700" font-size="46.5" fill="#000">a</text>
<text x="-0.4" y="326.2" font-family='"Liberation Sans", Arial, Helvetica, sans-serif' font-weight="700" font-size="45.2" fill="#000">b</text>
<text x="8.6" y="645.6" font-family='"Liberation Sans", Arial, Helvetica, sans-serif' font-weight="700" font-size="46.5" fill="#000">c</text>
<text x="15.6" y="1280.3" font-family='"Liberation Sans", Arial, Helvetica, sans-serif' font-weight="700" font-size="45.2" fill="#000">d</text>
</svg>
</body>
</html>
